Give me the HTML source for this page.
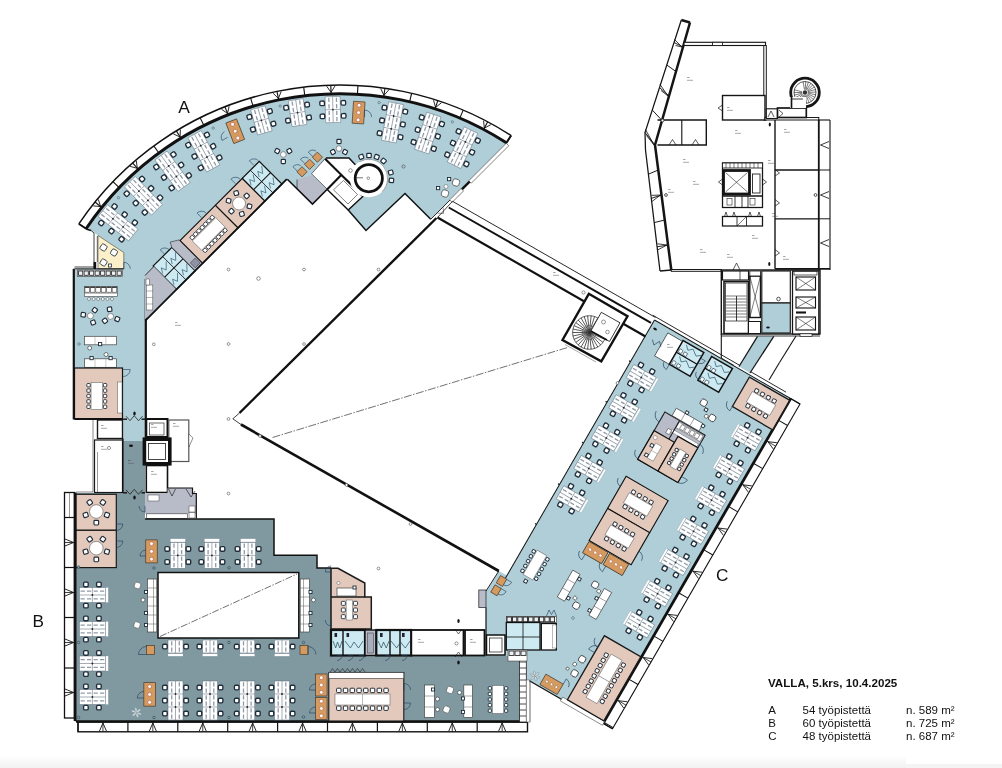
<!DOCTYPE html>
<html lang="fi"><head><meta charset="utf-8"><title>VALLA, 5.krs</title>
<style>
html,body{margin:0;padding:0;background:#fff;}
body{width:1002px;height:768px;overflow:hidden;position:relative;font-family:"Liberation Sans",sans-serif;}
svg{position:absolute;left:0;top:0;display:block;will-change:transform}
text{font-family:"Liberation Sans",sans-serif;fill:#111}
</style></head><body>
<svg width="1002" height="768" viewBox="0 0 1002 768">
<defs><linearGradient id="bb" x1="0" y1="0" x2="0" y2="1"><stop offset="0" stop-color="#fdfdfd"/><stop offset="1" stop-color="#f1f1f1"/></linearGradient></defs>
<rect x="0" y="0" width="1002" height="768" fill="#fff" stroke="none" stroke-width="1" />
<rect x="0" y="757" width="906" height="11" fill="url(#bb)" stroke="none" stroke-width="1" />
<rect x="906" y="764" width="96" height="4" fill="#f4f4f4" stroke="none" stroke-width="1" />
<polygon points="86.07,228.72 90.58,222.21 95.26,215.82 100.1,209.55 105.11,203.41 110.27,197.41 115.59,191.53 121.05,185.8 126.66,180.21 132.42,174.77 138.31,169.48 144.34,164.34 150.5,159.36 156.78,154.54 163.19,149.88 169.72,145.4 176.36,141.08 183.11,136.93 189.96,132.96 196.92,129.17 203.97,125.56 211.11,122.14 218.34,118.9 225.65,115.85 233.03,112.99 240.49,110.32 248.01,107.84 255.6,105.56 263.24,103.47 270.93,101.59 278.67,99.9 286.45,98.42 294.27,97.13 302.11,96.05 309.99,95.17 317.88,94.5 325.78,94.03 333.7,93.76 341.62,93.7 349.54,93.85 357.45,94.2 365.36,94.75 373.24,95.51 381.1,96.47 388.94,97.63 396.74,99 404.5,100.57 412.22,102.34 419.9,104.3 427.51,106.47 435.08,108.83 442.57,111.39 450,114.13 457.36,117.07 464.63,120.2 471.83,123.52 478.93,127.02 485.94,130.7 492.86,134.57 499.67,138.61 506.37,142.82 506.5,143.5 430.5,219 405,193.5 366,230.5 348,210 327,189.5 312.5,204 287.3,179.5 145,321.5 145,441 123.2,441 123.2,418.5 74.5,418.5 74.5,268.8 98,268.8 98,235.5 89.5,229.5" fill="#afced7" stroke="none" stroke-width="1" />
<polygon points="75,493 123.2,493 123.2,441 145,441 145,519 274,519 274,555.3 317,555.3 317,568 331,568 331,656 520,656 526.3,656 526.3,721.5 75,721.5" fill="#8099a1" stroke="none" stroke-width="1" />
<polygon points="654.5,320 790.64,398.6 603.14,723.36 529.79,681.01 526.3,681 526.3,656 486,656 486,591 498.8,571 507,575.48" fill="#afced7" stroke="none" stroke-width="1" />
<path d="M78.85 223.85 A315 315 0 0 1 511.1 135.52" fill="none" stroke="#111" stroke-width="1.5"/>
<path d="M86.07 228.72 A306.3 306.3 0 0 1 506.37 142.82" fill="none" stroke="#111" stroke-width="3"/>
<line x1="86.07" y1="228.72" x2="78.85" y2="223.85" stroke="#111" stroke-width="1.5" />
<line x1="101.75" y1="207.49" x2="94.99" y2="202.03" stroke="#111" stroke-width="1.1" />
<polyline points="98.37,199.47 100.59,206.55 93.2,205.87" fill="none" stroke="#111" stroke-width="0.9" />
<line x1="119.21" y1="187.7" x2="112.94" y2="181.67" stroke="#111" stroke-width="1.1" />
<line x1="138.31" y1="169.48" x2="132.58" y2="162.93" stroke="#111" stroke-width="1.1" />
<polyline points="136.35,161 137.32,168.35 130.16,166.41" fill="none" stroke="#111" stroke-width="0.9" />
<line x1="158.91" y1="152.97" x2="153.76" y2="145.95" stroke="#111" stroke-width="1.1" />
<line x1="180.85" y1="138.29" x2="176.33" y2="130.86" stroke="#111" stroke-width="1.1" />
<polyline points="180.37,129.6 180.07,137.01 173.35,133.87" fill="none" stroke="#111" stroke-width="0.9" />
<line x1="203.97" y1="125.56" x2="200.1" y2="117.77" stroke="#111" stroke-width="1.1" />
<line x1="228.1" y1="114.87" x2="224.92" y2="106.77" stroke="#111" stroke-width="1.1" />
<polyline points="229.12,106.23 227.55,113.48 221.47,109.23" fill="none" stroke="#111" stroke-width="0.9" />
<line x1="253.06" y1="106.3" x2="250.59" y2="97.95" stroke="#111" stroke-width="1.1" />
<line x1="278.67" y1="99.9" x2="276.93" y2="91.38" stroke="#111" stroke-width="1.1" />
<polyline points="281.16,91.56 278.37,98.43 273.11,93.21" fill="none" stroke="#111" stroke-width="0.9" />
<line x1="304.74" y1="95.74" x2="303.73" y2="87.09" stroke="#111" stroke-width="1.1" />
<line x1="331.06" y1="93.83" x2="330.81" y2="85.13" stroke="#111" stroke-width="1.1" />
<polyline points="334.95,86.04 331.02,92.33 326.73,86.28" fill="none" stroke="#111" stroke-width="0.9" />
<line x1="357.45" y1="94.2" x2="357.95" y2="85.51" stroke="#111" stroke-width="1.1" />
<line x1="383.72" y1="96.84" x2="384.96" y2="88.22" stroke="#111" stroke-width="1.1" />
<polyline points="388.88,89.83 383.93,95.35 380.74,88.65" fill="none" stroke="#111" stroke-width="0.9" />
<line x1="409.65" y1="101.73" x2="411.63" y2="93.25" stroke="#111" stroke-width="1.1" />
<line x1="435.08" y1="108.83" x2="437.78" y2="100.56" stroke="#111" stroke-width="1.1" />
<polyline points="441.36,102.81 435.54,107.4 433.55,100.26" fill="none" stroke="#111" stroke-width="0.9" />
<line x1="459.79" y1="118.1" x2="463.19" y2="110.09" stroke="#111" stroke-width="1.1" />
<line x1="483.62" y1="129.46" x2="487.69" y2="121.77" stroke="#111" stroke-width="1.1" />
<polyline points="490.84,124.61 484.32,128.13 483.58,120.75" fill="none" stroke="#111" stroke-width="0.9" />
<line x1="506.37" y1="142.82" x2="511.1" y2="135.52" stroke="#111" stroke-width="1.5" />
<polyline points="78.85,223.85 86.89,229.28 91,230.5" fill="none" stroke="#111" stroke-width="1.6" />
<polyline points="511.1,135.52 505.83,143.66" fill="none" stroke="#111" stroke-width="1.8" />
<polygon points="98,235.5 123.8,252.5 123.8,268.8 98,268.8" fill="#fbf0c9" stroke="#444" stroke-width="0.6" />
<polyline points="91,230.5 94,233 94,268" fill="none" stroke="#111" stroke-width="0.8" />
<line x1="97.3" y1="236" x2="97.3" y2="262" stroke="#111" stroke-width="0.6" />
<rect x="93.6" y="262" width="2.6" height="7" fill="#111" stroke="none" stroke-width="1" />
<polyline points="74.5,267 94,267" fill="none" stroke="#111" stroke-width="0.8" />
<rect x="100.5" y="244.5" width="6" height="6" fill="#fff" stroke="#1f2d3a" stroke-width="0.8" rx="1.5" transform="rotate(30 103.5 247.5)"/>
<rect x="111" y="249.5" width="6" height="6" fill="#fff" stroke="#1f2d3a" stroke-width="0.8" rx="1.5" transform="rotate(30 114 252.5)"/>
<rect x="100.5" y="259.5" width="6" height="6" fill="#fff" stroke="#1f2d3a" stroke-width="0.8" rx="1.5" transform="rotate(30 103.5 262.5)"/>
<rect x="108.5" y="264" width="3" height="3" fill="#fff" stroke="#1f2d3a" stroke-width="0.8" />
<path d="M123.8 268.8 L123.8 262.3 A6.5 6.5 0 0 1 130.3 268.8" fill="none" stroke="#1f3a5a" stroke-width="0.6"/>
<rect x="77.5" y="270" width="45" height="6.3" fill="#fff" stroke="#333" stroke-width="0.6" />
<rect x="78.6" y="271" width="4.2" height="4.3" fill="#eef1f3" stroke="#1a1a1a" stroke-width="0.8" />
<rect x="84.1" y="271" width="4.2" height="4.3" fill="#eef1f3" stroke="#1a1a1a" stroke-width="0.8" />
<rect x="89.6" y="271" width="4.2" height="4.3" fill="#eef1f3" stroke="#1a1a1a" stroke-width="0.8" />
<rect x="95.1" y="271" width="4.2" height="4.3" fill="#eef1f3" stroke="#1a1a1a" stroke-width="0.8" />
<rect x="100.6" y="271" width="4.2" height="4.3" fill="#eef1f3" stroke="#1a1a1a" stroke-width="0.8" />
<rect x="106.1" y="271" width="4.2" height="4.3" fill="#eef1f3" stroke="#1a1a1a" stroke-width="0.8" />
<rect x="111.6" y="271" width="4.2" height="4.3" fill="#eef1f3" stroke="#1a1a1a" stroke-width="0.8" />
<rect x="117.1" y="271" width="4.2" height="4.3" fill="#eef1f3" stroke="#1a1a1a" stroke-width="0.8" />
<rect x="84.4" y="286.4" width="33.1" height="10" fill="#fff" stroke="#444" stroke-width="0.6" />
<rect x="84.9" y="287" width="4.6" height="5.2" fill="#fff" stroke="#333" stroke-width="0.6" />
<line x1="84.9" y1="287.3" x2="89.5" y2="287.3" stroke="#222" stroke-width="1" />
<circle cx="89" cy="299" r="1.5" fill="#fff" stroke="#444" stroke-width="0.5" />
<rect x="90.35" y="287" width="4.6" height="5.2" fill="#fff" stroke="#333" stroke-width="0.6" />
<line x1="90.35" y1="287.3" x2="94.95" y2="287.3" stroke="#222" stroke-width="1" />
<circle cx="93.6" cy="299" r="1.5" fill="#fff" stroke="#444" stroke-width="0.5" />
<rect x="95.8" y="287" width="4.6" height="5.2" fill="#fff" stroke="#333" stroke-width="0.6" />
<line x1="95.8" y1="287.3" x2="100.4" y2="287.3" stroke="#222" stroke-width="1" />
<circle cx="98.2" cy="299" r="1.5" fill="#fff" stroke="#444" stroke-width="0.5" />
<rect x="101.25" y="287" width="4.6" height="5.2" fill="#fff" stroke="#333" stroke-width="0.6" />
<line x1="101.25" y1="287.3" x2="105.85" y2="287.3" stroke="#222" stroke-width="1" />
<circle cx="102.8" cy="299" r="1.5" fill="#fff" stroke="#444" stroke-width="0.5" />
<rect x="106.7" y="287" width="4.6" height="5.2" fill="#fff" stroke="#333" stroke-width="0.6" />
<line x1="106.7" y1="287.3" x2="111.3" y2="287.3" stroke="#222" stroke-width="1" />
<circle cx="107.4" cy="299" r="1.5" fill="#fff" stroke="#444" stroke-width="0.5" />
<rect x="112.15" y="287" width="4.6" height="5.2" fill="#fff" stroke="#333" stroke-width="0.6" />
<line x1="112.15" y1="287.3" x2="116.75" y2="287.3" stroke="#222" stroke-width="1" />
<circle cx="112" cy="299" r="1.5" fill="#fff" stroke="#444" stroke-width="0.5" />
<line x1="84.4" y1="293.2" x2="117.5" y2="293.2" stroke="#444" stroke-width="0.5" />
<rect x="92.63" y="307.93" width="4.4" height="4.4" rx="0.9" fill="#fff" stroke="#1f2d3a" stroke-width="1.15" transform="rotate(-52 94.83 310.13)"/>
<rect x="90.9" y="320.28" width="4.4" height="4.4" rx="0.9" fill="#fff" stroke="#1f2d3a" stroke-width="1.15" transform="rotate(68 93.1 322.48)"/>
<rect x="81.07" y="312.6" width="4.4" height="4.4" rx="0.9" fill="#fff" stroke="#1f2d3a" stroke-width="1.15" transform="rotate(188 83.27 314.8)"/>
<circle cx="90.4" cy="315.8" r="3" fill="#fff" stroke="#555" stroke-width="0.6" />
<rect x="107.4" y="307.07" width="4.4" height="4.4" rx="0.9" fill="#fff" stroke="#1f2d3a" stroke-width="1.15" transform="rotate(-98 109.6 309.27)"/>
<rect x="115.08" y="316.9" width="4.4" height="4.4" rx="0.9" fill="#fff" stroke="#1f2d3a" stroke-width="1.15" transform="rotate(22 117.28 319.1)"/>
<rect x="102.73" y="318.63" width="4.4" height="4.4" rx="0.9" fill="#fff" stroke="#1f2d3a" stroke-width="1.15" transform="rotate(142 104.93 320.83)"/>
<circle cx="110.6" cy="316.4" r="3" fill="#fff" stroke="#555" stroke-width="0.6" />
<rect x="84.5" y="336.3" width="32" height="8.5" fill="#fff" stroke="#444" stroke-width="0.7" />
<line x1="95" y1="336.3" x2="95" y2="344.8" stroke="#777" stroke-width="0.4" />
<line x1="105.8" y1="336.3" x2="105.8" y2="344.8" stroke="#777" stroke-width="0.4" />
<rect x="98.5" y="342.5" width="3.2" height="3.2" fill="#fff" stroke="#1f2d3a" stroke-width="0.9" />
<circle cx="89.7" cy="348" r="2" fill="#fff" stroke="#444" stroke-width="0.7" />
<circle cx="106" cy="354.5" r="2" fill="#fff" stroke="#444" stroke-width="0.7" />
<rect x="84.5" y="358.8" width="32" height="8.5" fill="#fff" stroke="#444" stroke-width="0.7" />
<line x1="95" y1="358.8" x2="95" y2="367.3" stroke="#777" stroke-width="0.4" />
<line x1="105.8" y1="358.8" x2="105.8" y2="367.3" stroke="#777" stroke-width="0.4" />
<rect x="90" y="356.5" width="3.2" height="3.2" fill="#fff" stroke="#1f2d3a" stroke-width="0.9" />
<rect x="109" y="356.5" width="3.2" height="3.2" fill="#fff" stroke="#1f2d3a" stroke-width="0.9" />
<circle cx="79" cy="344" r="1.3" fill="#afced7" stroke="#3a5566" stroke-width="0.5" />
<rect x="74.5" y="368" width="48" height="50.6" fill="#e3c9bc" stroke="#111" stroke-width="1.2" />
<rect x="117.5" y="382" width="4.5" height="31" fill="#fff" stroke="#555" stroke-width="0.5" />
<g transform="translate(96.8,396) rotate(0)">
<rect x="-9.95" y="-12.5" width="3.4" height="3.4" fill="#fff" stroke="#1f2d3a" stroke-width="0.9" rx="0.8"/>
<rect x="6.55" y="-12.5" width="3.4" height="3.4" fill="#fff" stroke="#1f2d3a" stroke-width="0.9" rx="0.8"/>
<rect x="-9.95" y="-7.1" width="3.4" height="3.4" fill="#fff" stroke="#1f2d3a" stroke-width="0.9" rx="0.8"/>
<rect x="6.55" y="-7.1" width="3.4" height="3.4" fill="#fff" stroke="#1f2d3a" stroke-width="0.9" rx="0.8"/>
<rect x="-9.95" y="-1.7" width="3.4" height="3.4" fill="#fff" stroke="#1f2d3a" stroke-width="0.9" rx="0.8"/>
<rect x="6.55" y="-1.7" width="3.4" height="3.4" fill="#fff" stroke="#1f2d3a" stroke-width="0.9" rx="0.8"/>
<rect x="-9.95" y="3.7" width="3.4" height="3.4" fill="#fff" stroke="#1f2d3a" stroke-width="0.9" rx="0.8"/>
<rect x="6.55" y="3.7" width="3.4" height="3.4" fill="#fff" stroke="#1f2d3a" stroke-width="0.9" rx="0.8"/>
<rect x="-9.95" y="9.1" width="3.4" height="3.4" fill="#fff" stroke="#1f2d3a" stroke-width="0.9" rx="0.8"/>
<rect x="6.55" y="9.1" width="3.4" height="3.4" fill="#fff" stroke="#1f2d3a" stroke-width="0.9" rx="0.8"/>
<rect x="-5.75" y="-13.5" width="11.5" height="27" fill="#fff" stroke="#555" stroke-width="0.5" />
</g>
<path d="M123.2 369.5 L130.2 369.5 A7 7 0 0 1 123.2 376.5" fill="none" stroke="#1f3a5a" stroke-width="0.6"/>
<line x1="73.8" y1="268.8" x2="73.8" y2="419.5" stroke="#111" stroke-width="2.2" />
<line x1="145.8" y1="279" x2="145.8" y2="441" stroke="#111" stroke-width="2.2" />
<line x1="74.5" y1="268.8" x2="123.8" y2="268.8" stroke="#111" stroke-width="0.9" />
<g transform="translate(145,319.5) rotate(-45)">
<rect x="43.5" y="-32" width="26.5" height="33" fill="#cde9f2" stroke="#111" stroke-width="1.2" />
<line x1="43.5" y1="-16" x2="70" y2="-16" stroke="#111" stroke-width="1" />
<line x1="57" y1="-32" x2="57" y2="1" stroke="#111" stroke-width="0.8" />
<polygon points="70,-32 72.5,-37 80.6,-32 80.6,1 70,1" fill="#b8bbc8" stroke="#333" stroke-width="0.6" />
<rect x="72" y="-8" width="7" height="7" fill="#8d93a5" stroke="#333" stroke-width="0.5" />
<rect x="80.6" y="-31" width="50" height="32" fill="#e3c9bc" stroke="#111" stroke-width="1.1" />
<rect x="130.6" y="-31" width="38" height="32" fill="#e3c9bc" stroke="#111" stroke-width="1.1" />
<rect x="168.6" y="-31" width="24" height="32" fill="#cde9f2" stroke="#111" stroke-width="1.2" />
<line x1="168.6" y1="-15" x2="192.6" y2="-15" stroke="#111" stroke-width="1" />
<line x1="180" y1="-31" x2="180" y2="1" stroke="#111" stroke-width="0.8" />
<polyline points="170,-20 173,-25 175,-20 179,-26" fill="none" stroke="#1f4a5a" stroke-width="0.6" />
<polyline points="170,-4 173,-9 175,-4 179,-10" fill="none" stroke="#1f4a5a" stroke-width="0.6" />
<polyline points="181.5,-20 184.5,-25 186.5,-20 191,-26" fill="none" stroke="#1f4a5a" stroke-width="0.6" />
<polyline points="181.5,-4 184.5,-9 186.5,-4 191,-10" fill="none" stroke="#1f4a5a" stroke-width="0.6" />
<polyline points="45,-20 48,-25 50,-20 56,-26" fill="none" stroke="#1f4a5a" stroke-width="0.6" />
<polyline points="45,-4 48,-9 50,-4 56,-10" fill="none" stroke="#1f4a5a" stroke-width="0.6" />
<polyline points="58.5,-20 61.5,-25 63.5,-20 69,-26" fill="none" stroke="#1f4a5a" stroke-width="0.6" />
<polyline points="58.5,-4 61.5,-9 63.5,-4 69,-10" fill="none" stroke="#1f4a5a" stroke-width="0.6" />
</g>
<polygon points="145,275.5 153.8,266.5 175.76,288.74 145,319.5" fill="#b8bbc8" stroke="none" stroke-width="1" />
<polyline points="145,275.5 153.8,266.5" fill="none" stroke="#111" stroke-width="0.8" />
<rect x="146.3" y="285" width="6.5" height="25" fill="#fff" stroke="#444" stroke-width="0.5" />
<line x1="146.3" y1="291" x2="152.8" y2="291" stroke="#444" stroke-width="0.4" />
<line x1="146.3" y1="297.5" x2="152.8" y2="297.5" stroke="#444" stroke-width="0.4" />
<line x1="146.3" y1="304" x2="152.8" y2="304" stroke="#444" stroke-width="0.4" />
<rect x="146" y="279" width="3.5" height="6" fill="#fff" stroke="#444" stroke-width="0.5" />
<line x1="145.35" y1="320.56" x2="286.77" y2="179.14" stroke="#111" stroke-width="1.8" />
<g transform="translate(208.64,233.94) rotate(45)">
<rect x="-10.9" y="-15.94" width="3.6" height="3.6" fill="#fff" stroke="#1f2d3a" stroke-width="0.9" rx="0.8"/>
<rect x="7.3" y="-15.94" width="3.6" height="3.6" fill="#fff" stroke="#1f2d3a" stroke-width="0.9" rx="0.8"/>
<rect x="-10.9" y="-11.23" width="3.6" height="3.6" fill="#fff" stroke="#1f2d3a" stroke-width="0.9" rx="0.8"/>
<rect x="7.3" y="-11.23" width="3.6" height="3.6" fill="#fff" stroke="#1f2d3a" stroke-width="0.9" rx="0.8"/>
<rect x="-10.9" y="-6.51" width="3.6" height="3.6" fill="#fff" stroke="#1f2d3a" stroke-width="0.9" rx="0.8"/>
<rect x="7.3" y="-6.51" width="3.6" height="3.6" fill="#fff" stroke="#1f2d3a" stroke-width="0.9" rx="0.8"/>
<rect x="-10.9" y="-1.8" width="3.6" height="3.6" fill="#fff" stroke="#1f2d3a" stroke-width="0.9" rx="0.8"/>
<rect x="7.3" y="-1.8" width="3.6" height="3.6" fill="#fff" stroke="#1f2d3a" stroke-width="0.9" rx="0.8"/>
<rect x="-10.9" y="2.91" width="3.6" height="3.6" fill="#fff" stroke="#1f2d3a" stroke-width="0.9" rx="0.8"/>
<rect x="7.3" y="2.91" width="3.6" height="3.6" fill="#fff" stroke="#1f2d3a" stroke-width="0.9" rx="0.8"/>
<rect x="-10.9" y="7.63" width="3.6" height="3.6" fill="#fff" stroke="#1f2d3a" stroke-width="0.9" rx="0.8"/>
<rect x="7.3" y="7.63" width="3.6" height="3.6" fill="#fff" stroke="#1f2d3a" stroke-width="0.9" rx="0.8"/>
<rect x="-10.9" y="12.34" width="3.6" height="3.6" fill="#fff" stroke="#1f2d3a" stroke-width="0.9" rx="0.8"/>
<rect x="7.3" y="12.34" width="3.6" height="3.6" fill="#fff" stroke="#1f2d3a" stroke-width="0.9" rx="0.8"/>
<rect x="-6.5" y="-16.5" width="13" height="33" fill="#fff" stroke="#555" stroke-width="0.5" />
</g>
<rect x="247.28" y="204.13" width="4.4" height="4.4" rx="0.9" fill="#fff" stroke="#1f2d3a" stroke-width="1.15" transform="rotate(15 249.48 206.33)"/>
<rect x="239.64" y="211.77" width="4.4" height="4.4" rx="0.9" fill="#fff" stroke="#1f2d3a" stroke-width="1.15" transform="rotate(75 241.84 213.97)"/>
<rect x="229.21" y="208.97" width="4.4" height="4.4" rx="0.9" fill="#fff" stroke="#1f2d3a" stroke-width="1.15" transform="rotate(135 231.41 211.17)"/>
<rect x="226.41" y="198.54" width="4.4" height="4.4" rx="0.9" fill="#fff" stroke="#1f2d3a" stroke-width="1.15" transform="rotate(195 228.61 200.74)"/>
<rect x="234.05" y="190.9" width="4.4" height="4.4" rx="0.9" fill="#fff" stroke="#1f2d3a" stroke-width="1.15" transform="rotate(255 236.25 193.1)"/>
<rect x="244.48" y="193.7" width="4.4" height="4.4" rx="0.9" fill="#fff" stroke="#1f2d3a" stroke-width="1.15" transform="rotate(315 246.68 195.9)"/>
<circle cx="239.05" cy="203.53" r="6.5" fill="#fff" stroke="#555" stroke-width="0.6" />
<path d="M164.8 254.45 L160.2 249.85 A6.5 6.5 0 0 1 169.4 249.85" fill="none" stroke="#1f3a5a" stroke-width="0.6"/>
<path d="M201.57 217.68 L196.97 213.08 A6.5 6.5 0 0 1 206.16 213.08" fill="none" stroke="#1f3a5a" stroke-width="0.6"/>
<path d="M235.51 183.74 L230.91 179.14 A6.5 6.5 0 0 1 240.11 179.14" fill="none" stroke="#1f3a5a" stroke-width="0.6"/>
<path d="M253.89 165.35 L249.3 160.75 A6.5 6.5 0 0 1 258.49 160.75" fill="none" stroke="#1f3a5a" stroke-width="0.6"/>
<g transform="translate(118.05,222.82) rotate(-51.4)">
<rect x="-7.5" y="-19.5" width="15" height="39" fill="#fff" stroke="#5d6b78" stroke-width="0.5" />
<line x1="0" y1="-19.5" x2="0" y2="19.5" stroke="#7d8a96" stroke-width="0.7" />
<line x1="-3.8" y1="-18.3" x2="-3.8" y2="18.3" stroke="#8f9ba6" stroke-width="1.3" stroke-dasharray="4.2 2.2 4.2 2.4"/>
<line x1="3.8" y1="-18.3" x2="3.8" y2="18.3" stroke="#8f9ba6" stroke-width="1.3" stroke-dasharray="4.2 2.2 4.2 2.4"/>
<line x1="-7.5" y1="-6.5" x2="7.5" y2="-6.5" stroke="#6f7b87" stroke-width="0.6" />
<circle cx="0" cy="-6.5" r="0.9" fill="#222" stroke="none" stroke-width="1" />
<line x1="-7.5" y1="6.5" x2="7.5" y2="6.5" stroke="#6f7b87" stroke-width="0.6" />
<circle cx="0" cy="6.5" r="0.9" fill="#222" stroke="none" stroke-width="1" />
<rect x="-12.9" y="-15.3" width="4.6" height="4.6" fill="#fff" stroke="#1f2d3a" stroke-width="1.35" rx="1.2"/>
<rect x="8.3" y="-15.3" width="4.6" height="4.6" fill="#fff" stroke="#1f2d3a" stroke-width="1.35" rx="1.2"/>
<rect x="-12.9" y="-2.3" width="4.6" height="4.6" fill="#fff" stroke="#1f2d3a" stroke-width="1.35" rx="1.2"/>
<rect x="8.3" y="-2.3" width="4.6" height="4.6" fill="#fff" stroke="#1f2d3a" stroke-width="1.35" rx="1.2"/>
<rect x="-12.9" y="10.7" width="4.6" height="4.6" fill="#fff" stroke="#1f2d3a" stroke-width="1.35" rx="1.2"/>
<rect x="8.3" y="10.7" width="4.6" height="4.6" fill="#fff" stroke="#1f2d3a" stroke-width="1.35" rx="1.2"/>
</g>
<g transform="translate(143.42,195.72) rotate(-43.9)">
<rect x="-7.5" y="-19.5" width="15" height="39" fill="#fff" stroke="#5d6b78" stroke-width="0.5" />
<line x1="0" y1="-19.5" x2="0" y2="19.5" stroke="#7d8a96" stroke-width="0.7" />
<line x1="-3.8" y1="-18.3" x2="-3.8" y2="18.3" stroke="#8f9ba6" stroke-width="1.3" stroke-dasharray="4.2 2.2 4.2 2.4"/>
<line x1="3.8" y1="-18.3" x2="3.8" y2="18.3" stroke="#8f9ba6" stroke-width="1.3" stroke-dasharray="4.2 2.2 4.2 2.4"/>
<line x1="-7.5" y1="-6.5" x2="7.5" y2="-6.5" stroke="#6f7b87" stroke-width="0.6" />
<circle cx="0" cy="-6.5" r="0.9" fill="#222" stroke="none" stroke-width="1" />
<line x1="-7.5" y1="6.5" x2="7.5" y2="6.5" stroke="#6f7b87" stroke-width="0.6" />
<circle cx="0" cy="6.5" r="0.9" fill="#222" stroke="none" stroke-width="1" />
<rect x="-12.9" y="-15.3" width="4.6" height="4.6" fill="#fff" stroke="#1f2d3a" stroke-width="1.35" rx="1.2"/>
<rect x="8.3" y="-15.3" width="4.6" height="4.6" fill="#fff" stroke="#1f2d3a" stroke-width="1.35" rx="1.2"/>
<rect x="-12.9" y="-2.3" width="4.6" height="4.6" fill="#fff" stroke="#1f2d3a" stroke-width="1.35" rx="1.2"/>
<rect x="8.3" y="-2.3" width="4.6" height="4.6" fill="#fff" stroke="#1f2d3a" stroke-width="1.35" rx="1.2"/>
<rect x="-12.9" y="10.7" width="4.6" height="4.6" fill="#fff" stroke="#1f2d3a" stroke-width="1.35" rx="1.2"/>
<rect x="8.3" y="10.7" width="4.6" height="4.6" fill="#fff" stroke="#1f2d3a" stroke-width="1.35" rx="1.2"/>
</g>
<g transform="translate(172.56,171.23) rotate(-36.2)">
<rect x="-7.5" y="-19.5" width="15" height="39" fill="#fff" stroke="#5d6b78" stroke-width="0.5" />
<line x1="0" y1="-19.5" x2="0" y2="19.5" stroke="#7d8a96" stroke-width="0.7" />
<line x1="-3.8" y1="-18.3" x2="-3.8" y2="18.3" stroke="#8f9ba6" stroke-width="1.3" stroke-dasharray="4.2 2.2 4.2 2.4"/>
<line x1="3.8" y1="-18.3" x2="3.8" y2="18.3" stroke="#8f9ba6" stroke-width="1.3" stroke-dasharray="4.2 2.2 4.2 2.4"/>
<line x1="-7.5" y1="-6.5" x2="7.5" y2="-6.5" stroke="#6f7b87" stroke-width="0.6" />
<circle cx="0" cy="-6.5" r="0.9" fill="#222" stroke="none" stroke-width="1" />
<line x1="-7.5" y1="6.5" x2="7.5" y2="6.5" stroke="#6f7b87" stroke-width="0.6" />
<circle cx="0" cy="6.5" r="0.9" fill="#222" stroke="none" stroke-width="1" />
<rect x="-12.9" y="-15.3" width="4.6" height="4.6" fill="#fff" stroke="#1f2d3a" stroke-width="1.35" rx="1.2"/>
<rect x="8.3" y="-15.3" width="4.6" height="4.6" fill="#fff" stroke="#1f2d3a" stroke-width="1.35" rx="1.2"/>
<rect x="-12.9" y="-2.3" width="4.6" height="4.6" fill="#fff" stroke="#1f2d3a" stroke-width="1.35" rx="1.2"/>
<rect x="8.3" y="-2.3" width="4.6" height="4.6" fill="#fff" stroke="#1f2d3a" stroke-width="1.35" rx="1.2"/>
<rect x="-12.9" y="10.7" width="4.6" height="4.6" fill="#fff" stroke="#1f2d3a" stroke-width="1.35" rx="1.2"/>
<rect x="8.3" y="10.7" width="4.6" height="4.6" fill="#fff" stroke="#1f2d3a" stroke-width="1.35" rx="1.2"/>
</g>
<g transform="translate(203.86,151.33) rotate(-28.7)">
<rect x="-7.5" y="-19.5" width="15" height="39" fill="#fff" stroke="#5d6b78" stroke-width="0.5" />
<line x1="0" y1="-19.5" x2="0" y2="19.5" stroke="#7d8a96" stroke-width="0.7" />
<line x1="-3.8" y1="-18.3" x2="-3.8" y2="18.3" stroke="#8f9ba6" stroke-width="1.3" stroke-dasharray="4.2 2.2 4.2 2.4"/>
<line x1="3.8" y1="-18.3" x2="3.8" y2="18.3" stroke="#8f9ba6" stroke-width="1.3" stroke-dasharray="4.2 2.2 4.2 2.4"/>
<line x1="-7.5" y1="-6.5" x2="7.5" y2="-6.5" stroke="#6f7b87" stroke-width="0.6" />
<circle cx="0" cy="-6.5" r="0.9" fill="#222" stroke="none" stroke-width="1" />
<line x1="-7.5" y1="6.5" x2="7.5" y2="6.5" stroke="#6f7b87" stroke-width="0.6" />
<circle cx="0" cy="6.5" r="0.9" fill="#222" stroke="none" stroke-width="1" />
<rect x="-12.9" y="-15.3" width="4.6" height="4.6" fill="#fff" stroke="#1f2d3a" stroke-width="1.35" rx="1.2"/>
<rect x="8.3" y="-15.3" width="4.6" height="4.6" fill="#fff" stroke="#1f2d3a" stroke-width="1.35" rx="1.2"/>
<rect x="-12.9" y="-2.3" width="4.6" height="4.6" fill="#fff" stroke="#1f2d3a" stroke-width="1.35" rx="1.2"/>
<rect x="8.3" y="-2.3" width="4.6" height="4.6" fill="#fff" stroke="#1f2d3a" stroke-width="1.35" rx="1.2"/>
<rect x="-12.9" y="10.7" width="4.6" height="4.6" fill="#fff" stroke="#1f2d3a" stroke-width="1.35" rx="1.2"/>
<rect x="8.3" y="10.7" width="4.6" height="4.6" fill="#fff" stroke="#1f2d3a" stroke-width="1.35" rx="1.2"/>
</g>
<g transform="translate(261.39,120.34) rotate(-15.7)">
<rect x="-7.5" y="-13" width="15" height="26" fill="#fff" stroke="#5d6b78" stroke-width="0.5" />
<line x1="0" y1="-13" x2="0" y2="13" stroke="#7d8a96" stroke-width="0.7" />
<line x1="-3.8" y1="-11.8" x2="-3.8" y2="11.8" stroke="#8f9ba6" stroke-width="1.3" stroke-dasharray="4.2 2.2 4.2 2.4"/>
<line x1="3.8" y1="-11.8" x2="3.8" y2="11.8" stroke="#8f9ba6" stroke-width="1.3" stroke-dasharray="4.2 2.2 4.2 2.4"/>
<line x1="-7.5" y1="0" x2="7.5" y2="0" stroke="#6f7b87" stroke-width="0.6" />
<circle cx="0" cy="0" r="0.9" fill="#222" stroke="none" stroke-width="1" />
<rect x="-12.9" y="-8.8" width="4.6" height="4.6" fill="#fff" stroke="#1f2d3a" stroke-width="1.35" rx="1.2"/>
<rect x="8.3" y="-8.8" width="4.6" height="4.6" fill="#fff" stroke="#1f2d3a" stroke-width="1.35" rx="1.2"/>
<rect x="-12.9" y="4.2" width="4.6" height="4.6" fill="#fff" stroke="#1f2d3a" stroke-width="1.35" rx="1.2"/>
<rect x="8.3" y="4.2" width="4.6" height="4.6" fill="#fff" stroke="#1f2d3a" stroke-width="1.35" rx="1.2"/>
</g>
<g transform="translate(297.56,112.62) rotate(-8.4)">
<rect x="-7.5" y="-13" width="15" height="26" fill="#fff" stroke="#5d6b78" stroke-width="0.5" />
<line x1="0" y1="-13" x2="0" y2="13" stroke="#7d8a96" stroke-width="0.7" />
<line x1="-3.8" y1="-11.8" x2="-3.8" y2="11.8" stroke="#8f9ba6" stroke-width="1.3" stroke-dasharray="4.2 2.2 4.2 2.4"/>
<line x1="3.8" y1="-11.8" x2="3.8" y2="11.8" stroke="#8f9ba6" stroke-width="1.3" stroke-dasharray="4.2 2.2 4.2 2.4"/>
<line x1="-7.5" y1="0" x2="7.5" y2="0" stroke="#6f7b87" stroke-width="0.6" />
<circle cx="0" cy="0" r="0.9" fill="#222" stroke="none" stroke-width="1" />
<rect x="-12.9" y="-8.8" width="4.6" height="4.6" fill="#fff" stroke="#1f2d3a" stroke-width="1.35" rx="1.2"/>
<rect x="8.3" y="-8.8" width="4.6" height="4.6" fill="#fff" stroke="#1f2d3a" stroke-width="1.35" rx="1.2"/>
<rect x="-12.9" y="4.2" width="4.6" height="4.6" fill="#fff" stroke="#1f2d3a" stroke-width="1.35" rx="1.2"/>
<rect x="8.3" y="4.2" width="4.6" height="4.6" fill="#fff" stroke="#1f2d3a" stroke-width="1.35" rx="1.2"/>
</g>
<g transform="translate(332.9,109.59) rotate(-1.4)">
<rect x="-7.5" y="-13" width="15" height="26" fill="#fff" stroke="#5d6b78" stroke-width="0.5" />
<line x1="0" y1="-13" x2="0" y2="13" stroke="#7d8a96" stroke-width="0.7" />
<line x1="-3.8" y1="-11.8" x2="-3.8" y2="11.8" stroke="#8f9ba6" stroke-width="1.3" stroke-dasharray="4.2 2.2 4.2 2.4"/>
<line x1="3.8" y1="-11.8" x2="3.8" y2="11.8" stroke="#8f9ba6" stroke-width="1.3" stroke-dasharray="4.2 2.2 4.2 2.4"/>
<line x1="-7.5" y1="0" x2="7.5" y2="0" stroke="#6f7b87" stroke-width="0.6" />
<circle cx="0" cy="0" r="0.9" fill="#222" stroke="none" stroke-width="1" />
<rect x="-12.9" y="-8.8" width="4.6" height="4.6" fill="#fff" stroke="#1f2d3a" stroke-width="1.35" rx="1.2"/>
<rect x="8.3" y="-8.8" width="4.6" height="4.6" fill="#fff" stroke="#1f2d3a" stroke-width="1.35" rx="1.2"/>
<rect x="-12.9" y="4.2" width="4.6" height="4.6" fill="#fff" stroke="#1f2d3a" stroke-width="1.35" rx="1.2"/>
<rect x="8.3" y="4.2" width="4.6" height="4.6" fill="#fff" stroke="#1f2d3a" stroke-width="1.35" rx="1.2"/>
</g>
<g transform="translate(392.45,122.41) rotate(10.7)">
<rect x="-7.5" y="-19.5" width="15" height="39" fill="#fff" stroke="#5d6b78" stroke-width="0.5" />
<line x1="0" y1="-19.5" x2="0" y2="19.5" stroke="#7d8a96" stroke-width="0.7" />
<line x1="-3.8" y1="-18.3" x2="-3.8" y2="18.3" stroke="#8f9ba6" stroke-width="1.3" stroke-dasharray="4.2 2.2 4.2 2.4"/>
<line x1="3.8" y1="-18.3" x2="3.8" y2="18.3" stroke="#8f9ba6" stroke-width="1.3" stroke-dasharray="4.2 2.2 4.2 2.4"/>
<line x1="-7.5" y1="-6.5" x2="7.5" y2="-6.5" stroke="#6f7b87" stroke-width="0.6" />
<circle cx="0" cy="-6.5" r="0.9" fill="#222" stroke="none" stroke-width="1" />
<line x1="-7.5" y1="6.5" x2="7.5" y2="6.5" stroke="#6f7b87" stroke-width="0.6" />
<circle cx="0" cy="6.5" r="0.9" fill="#222" stroke="none" stroke-width="1" />
<rect x="-12.9" y="-15.3" width="4.6" height="4.6" fill="#fff" stroke="#1f2d3a" stroke-width="1.35" rx="1.2"/>
<rect x="8.3" y="-15.3" width="4.6" height="4.6" fill="#fff" stroke="#1f2d3a" stroke-width="1.35" rx="1.2"/>
<rect x="-12.9" y="-2.3" width="4.6" height="4.6" fill="#fff" stroke="#1f2d3a" stroke-width="1.35" rx="1.2"/>
<rect x="8.3" y="-2.3" width="4.6" height="4.6" fill="#fff" stroke="#1f2d3a" stroke-width="1.35" rx="1.2"/>
<rect x="-12.9" y="10.7" width="4.6" height="4.6" fill="#fff" stroke="#1f2d3a" stroke-width="1.35" rx="1.2"/>
<rect x="8.3" y="10.7" width="4.6" height="4.6" fill="#fff" stroke="#1f2d3a" stroke-width="1.35" rx="1.2"/>
</g>
<g transform="translate(427.77,133.06) rotate(18.2)">
<rect x="-7.5" y="-19.5" width="15" height="39" fill="#fff" stroke="#5d6b78" stroke-width="0.5" />
<line x1="0" y1="-19.5" x2="0" y2="19.5" stroke="#7d8a96" stroke-width="0.7" />
<line x1="-3.8" y1="-18.3" x2="-3.8" y2="18.3" stroke="#8f9ba6" stroke-width="1.3" stroke-dasharray="4.2 2.2 4.2 2.4"/>
<line x1="3.8" y1="-18.3" x2="3.8" y2="18.3" stroke="#8f9ba6" stroke-width="1.3" stroke-dasharray="4.2 2.2 4.2 2.4"/>
<line x1="-7.5" y1="-6.5" x2="7.5" y2="-6.5" stroke="#6f7b87" stroke-width="0.6" />
<circle cx="0" cy="-6.5" r="0.9" fill="#222" stroke="none" stroke-width="1" />
<line x1="-7.5" y1="6.5" x2="7.5" y2="6.5" stroke="#6f7b87" stroke-width="0.6" />
<circle cx="0" cy="6.5" r="0.9" fill="#222" stroke="none" stroke-width="1" />
<rect x="-12.9" y="-15.3" width="4.6" height="4.6" fill="#fff" stroke="#1f2d3a" stroke-width="1.35" rx="1.2"/>
<rect x="8.3" y="-15.3" width="4.6" height="4.6" fill="#fff" stroke="#1f2d3a" stroke-width="1.35" rx="1.2"/>
<rect x="-12.9" y="-2.3" width="4.6" height="4.6" fill="#fff" stroke="#1f2d3a" stroke-width="1.35" rx="1.2"/>
<rect x="8.3" y="-2.3" width="4.6" height="4.6" fill="#fff" stroke="#1f2d3a" stroke-width="1.35" rx="1.2"/>
<rect x="-12.9" y="10.7" width="4.6" height="4.6" fill="#fff" stroke="#1f2d3a" stroke-width="1.35" rx="1.2"/>
<rect x="8.3" y="10.7" width="4.6" height="4.6" fill="#fff" stroke="#1f2d3a" stroke-width="1.35" rx="1.2"/>
</g>
<g transform="translate(462.52,147.67) rotate(25.9)">
<rect x="-7.5" y="-19.5" width="15" height="39" fill="#fff" stroke="#5d6b78" stroke-width="0.5" />
<line x1="0" y1="-19.5" x2="0" y2="19.5" stroke="#7d8a96" stroke-width="0.7" />
<line x1="-3.8" y1="-18.3" x2="-3.8" y2="18.3" stroke="#8f9ba6" stroke-width="1.3" stroke-dasharray="4.2 2.2 4.2 2.4"/>
<line x1="3.8" y1="-18.3" x2="3.8" y2="18.3" stroke="#8f9ba6" stroke-width="1.3" stroke-dasharray="4.2 2.2 4.2 2.4"/>
<line x1="-7.5" y1="-6.5" x2="7.5" y2="-6.5" stroke="#6f7b87" stroke-width="0.6" />
<circle cx="0" cy="-6.5" r="0.9" fill="#222" stroke="none" stroke-width="1" />
<line x1="-7.5" y1="6.5" x2="7.5" y2="6.5" stroke="#6f7b87" stroke-width="0.6" />
<circle cx="0" cy="6.5" r="0.9" fill="#222" stroke="none" stroke-width="1" />
<rect x="-12.9" y="-15.3" width="4.6" height="4.6" fill="#fff" stroke="#1f2d3a" stroke-width="1.35" rx="1.2"/>
<rect x="8.3" y="-15.3" width="4.6" height="4.6" fill="#fff" stroke="#1f2d3a" stroke-width="1.35" rx="1.2"/>
<rect x="-12.9" y="-2.3" width="4.6" height="4.6" fill="#fff" stroke="#1f2d3a" stroke-width="1.35" rx="1.2"/>
<rect x="8.3" y="-2.3" width="4.6" height="4.6" fill="#fff" stroke="#1f2d3a" stroke-width="1.35" rx="1.2"/>
<rect x="-12.9" y="10.7" width="4.6" height="4.6" fill="#fff" stroke="#1f2d3a" stroke-width="1.35" rx="1.2"/>
<rect x="8.3" y="10.7" width="4.6" height="4.6" fill="#fff" stroke="#1f2d3a" stroke-width="1.35" rx="1.2"/>
</g>
<g transform="translate(235.2,131.21) rotate(-21.3)">
<rect x="-5.75" y="-11" width="11.5" height="22" fill="#d49a60" stroke="#4a3a2a" stroke-width="0.7" />
<circle cx="0" cy="-7.33" r="1.9" fill="#fff" stroke="#b5523a" stroke-width="0.6" />
<circle cx="0" cy="0" r="1.9" fill="#fff" stroke="#b5523a" stroke-width="0.6" />
<circle cx="0" cy="7.33" r="1.9" fill="#fff" stroke="#b5523a" stroke-width="0.6" />
</g>
<path d="M227.7 137.21 L222.07 140.46 A6.5 6.5 0 0 1 224.45 131.58" fill="none" stroke="#1f3a5a" stroke-width="0.6"/>
<g transform="translate(358.59,112.6) rotate(3.7)">
<rect x="-5.75" y="-11" width="11.5" height="22" fill="#d49a60" stroke="#4a3a2a" stroke-width="0.7" />
<circle cx="0" cy="-7.33" r="1.9" fill="#fff" stroke="#b5523a" stroke-width="0.6" />
<circle cx="0" cy="0" r="1.9" fill="#fff" stroke="#b5523a" stroke-width="0.6" />
<circle cx="0" cy="7.33" r="1.9" fill="#fff" stroke="#b5523a" stroke-width="0.6" />
</g>
<path d="M364.59 117.1 L364.59 110.1 A7 7 0 0 1 371.59 117.1" fill="none" stroke="#1f3a5a" stroke-width="0.6"/>
<circle cx="118.46" cy="197.71" r="1.2" fill="#afced7" stroke="#3a5566" stroke-width="0.5" />
<circle cx="213.21" cy="128.11" r="1.2" fill="#afced7" stroke="#3a5566" stroke-width="0.5" />
<circle cx="280.19" cy="106.02" r="1.2" fill="#afced7" stroke="#3a5566" stroke-width="0.5" />
<circle cx="379.16" cy="102.57" r="1.2" fill="#afced7" stroke="#3a5566" stroke-width="0.5" />
<circle cx="452.38" cy="121.84" r="1.2" fill="#afced7" stroke="#3a5566" stroke-width="0.5" />
<rect x="287.26" y="148.9" width="4.2" height="4.2" rx="0.9" fill="#fff" stroke="#1f2d3a" stroke-width="1.15" transform="rotate(-30 289.36 151)"/>
<rect x="281.2" y="159.4" width="4.2" height="4.2" rx="0.9" fill="#fff" stroke="#1f2d3a" stroke-width="1.15" transform="rotate(90 283.3 161.5)"/>
<rect x="275.14" y="148.9" width="4.2" height="4.2" rx="0.9" fill="#fff" stroke="#1f2d3a" stroke-width="1.15" transform="rotate(210 277.24 151)"/>
<circle cx="283.3" cy="154.5" r="2.8" fill="#fff" stroke="#555" stroke-width="0.6" />
<rect x="336.9" y="139.4" width="4.2" height="4.2" rx="0.9" fill="#fff" stroke="#1f2d3a" stroke-width="1.15" transform="rotate(-90 339 141.5)"/>
<rect x="342.96" y="149.9" width="4.2" height="4.2" rx="0.9" fill="#fff" stroke="#1f2d3a" stroke-width="1.15" transform="rotate(30 345.06 152)"/>
<rect x="330.84" y="149.9" width="4.2" height="4.2" rx="0.9" fill="#fff" stroke="#1f2d3a" stroke-width="1.15" transform="rotate(150 332.94 152)"/>
<circle cx="339" cy="148.5" r="2.8" fill="#fff" stroke="#555" stroke-width="0.6" />
<polygon points="297,179.5 311.3,175.5 326.5,189.5 312.5,204 297,188.5" fill="#b8bbc8" stroke="none" stroke-width="1" />
<polyline points="287.3,179.3 312.5,204 327,189.5" fill="none" stroke="#111" stroke-width="1.6" />
<line x1="297" y1="179.5" x2="297" y2="188.5" stroke="#111" stroke-width="0.6" />
<g transform="translate(302,171.8) rotate(45)">
<rect x="-3.6" y="-3.6" width="7.2" height="7.2" fill="#d49a60" stroke="#4a3a2a" stroke-width="0.7" />
</g>
<path d="M297.5 171.3 L292.9 166.7 A6.5 6.5 0 0 1 300.75 165.67" fill="none" stroke="#1f3a5a" stroke-width="0.6"/>
<g transform="translate(309.6,164.3) rotate(45)">
<rect x="-3.6" y="-3.6" width="7.2" height="7.2" fill="#d49a60" stroke="#4a3a2a" stroke-width="0.7" />
</g>
<path d="M305.1 163.8 L300.5 159.2 A6.5 6.5 0 0 1 308.35 158.17" fill="none" stroke="#1f3a5a" stroke-width="0.6"/>
<g transform="translate(317.4,157.2) rotate(45)">
<rect x="-3.6" y="-3.6" width="7.2" height="7.2" fill="#d49a60" stroke="#4a3a2a" stroke-width="0.7" />
</g>
<path d="M312.9 156.7 L308.3 152.1 A6.5 6.5 0 0 1 316.15 151.07" fill="none" stroke="#1f3a5a" stroke-width="0.6"/>
<polygon points="325,158.8 341.3,174.4 327,189 311.5,173.8" fill="#fff" stroke="#333" stroke-width="0.7" />
<polygon points="341.3,175 363,196.3 348.2,210 327.2,189.4" fill="#fff" stroke="#111" stroke-width="1.4" />
<polygon points="343.5,180.5 357.5,194.5 348,204 333.5,189.8" fill="#fff" stroke="#333" stroke-width="0.6" />
<polygon points="326,158 349,158 357,166.5 355,185 341.3,174.4" fill="#fff" stroke="none" stroke-width="1" />
<polyline points="326,158 349,158 356.5,166" fill="none" stroke="#111" stroke-width="1.5" />
<line x1="325" y1="158.8" x2="363" y2="196.3" stroke="#111" stroke-width="2" />
<line x1="327" y1="189.5" x2="341.3" y2="175" stroke="#111" stroke-width="1.8" />
<circle cx="368.8" cy="178.2" r="19" fill="#fff" stroke="none" stroke-width="1" />
<path d="M359.3 161.75 A19 19 0 0 1 382.1 191.69" fill="none" stroke="#555" stroke-width="0.5"/>
<circle cx="368.8" cy="178.2" r="13.6" fill="#fff" stroke="#111" stroke-width="2.8" />
<circle cx="368.3" cy="178.2" r="1.3" fill="#fff" stroke="#333" stroke-width="0.5" />
<line x1="355" y1="177.8" x2="363" y2="177.8" stroke="#111" stroke-width="0.6" />
<circle cx="350.5" cy="170.5" r="1.8" fill="#fff" stroke="#333" stroke-width="0.5" />
<rect x="359.1" y="155.06" width="4.4" height="4.4" rx="0.8" fill="#fff" stroke="#1f2d3a" stroke-width="1.2" transform="rotate(-110 361.1 157.06)"/>
<rect x="366.8" y="153.7" width="4.4" height="4.4" rx="0.8" fill="#fff" stroke="#1f2d3a" stroke-width="1.2" transform="rotate(-90 368.8 155.7)"/>
<rect x="374.5" y="155.06" width="4.4" height="4.4" rx="0.8" fill="#fff" stroke="#1f2d3a" stroke-width="1.2" transform="rotate(-70 376.5 157.06)"/>
<rect x="381.26" y="158.96" width="4.4" height="4.4" rx="0.8" fill="#fff" stroke="#1f2d3a" stroke-width="1.2" transform="rotate(-50 383.26 160.96)"/>
<rect x="388.53" y="170.38" width="4.4" height="4.4" rx="0.8" fill="#fff" stroke="#1f2d3a" stroke-width="1.2" transform="rotate(-15 390.53 172.38)"/>
<rect x="389.21" y="178.16" width="4.4" height="4.4" rx="0.8" fill="#fff" stroke="#1f2d3a" stroke-width="1.2" transform="rotate(5 391.21 180.16)"/>
<polyline points="348.2,210 366,230.5 405,193.5 430.5,219" fill="none" stroke="#111" stroke-width="1.5" />
<polygon points="506.29,143.29 508.76,145.76 471.29,183.24 468.81,180.76" fill="#fff" stroke="#333" stroke-width="0.6" />
<polyline points="469.59,181.54 461.81,189.32" fill="none" stroke="#111" stroke-width="2.4" />
<polygon points="461.03,188.54 463.51,191.02 452.19,202.33 449.72,199.86" fill="#fff" stroke="#333" stroke-width="0.6" />
<polyline points="449.93,200.07 430.49,219.51" fill="none" stroke="#111" stroke-width="0.9" />
<polyline points="443.21,207.49 443.57,213.5 437.56,213.15" fill="none" stroke="#333" stroke-width="0.5" />
<rect x="452.6" y="179.1" width="6.8" height="6.8" fill="#fff" stroke="#444" stroke-width="0.7" rx="2.2" transform="rotate(20 456 182.5)"/>
<rect x="441.6" y="190.1" width="6.8" height="6.8" fill="#fff" stroke="#444" stroke-width="0.7" rx="2.2" transform="rotate(20 445 193.5)"/>
<circle cx="446" cy="186.5" r="2" fill="#fff" stroke="#555" stroke-width="0.5" />
<rect x="447.5" y="177.5" width="3.2" height="3.2" fill="#fff" stroke="#1f2d3a" stroke-width="0.9" />
<rect x="436.5" y="186.5" width="3.2" height="3.2" fill="#fff" stroke="#1f2d3a" stroke-width="0.9" />
<circle cx="403.5" cy="166.5" r="1.6" fill="#afced7" stroke="#333" stroke-width="0.5" />
<rect x="97.5" y="420" width="25" height="18.5" fill="#fff" stroke="#1a1a1a" stroke-width="1.4" />
<rect x="94.5" y="440" width="28" height="52.5" fill="#fff" stroke="#1a1a1a" stroke-width="1.2" />
<line x1="97.5" y1="452" x2="97.5" y2="492" stroke="#555" stroke-width="0.6" />
<polyline points="74.5,419.5 93,419.5 93,492 76,492" fill="none" stroke="#555" stroke-width="0.7" />
<line x1="122.8" y1="438.5" x2="122.8" y2="493" stroke="#111" stroke-width="1.6" />
<line x1="74.5" y1="419.2" x2="123.2" y2="419.2" stroke="#111" stroke-width="1.6" />
<circle cx="109" cy="448" r="1.6" fill="#fff" stroke="#333" stroke-width="0.5" />
<rect x="146.3" y="419" width="21.2" height="18" fill="#fff" stroke="#111" stroke-width="2" />
<rect x="149.5" y="423" width="14.5" height="12" fill="#fff" stroke="#333" stroke-width="0.7" />
<rect x="168.8" y="420" width="20" height="41.5" fill="#fff" stroke="#555" stroke-width="1.2" />
<rect x="144.4" y="439.2" width="25.4" height="24.6" fill="#fff" stroke="#111" stroke-width="3.6" />
<rect x="148.5" y="443.5" width="17" height="16" fill="#fff" stroke="#333" stroke-width="0.9" />
<rect x="146.3" y="465.5" width="21.2" height="27" fill="#fff" stroke="#111" stroke-width="1.6" />
<polygon points="188.8,434 193,438 188.8,447" fill="#fff" stroke="#444" stroke-width="0.6" />
<ellipse cx="134.5" cy="413.5" rx="1.2" ry="2" fill="#111"/>
<ellipse cx="131" cy="445.8" rx="2" ry="1.3" fill="#111"/>
<ellipse cx="134.5" cy="497.5" rx="1.2" ry="2" fill="#111"/>
<polyline points="126,416.2 130,420.7 134.2,415.7 138.5,420.7 142.5,416.2" fill="none" stroke="#111" stroke-width="0.7" />
<line x1="123.2" y1="419.2" x2="127" y2="419.2" stroke="#111" stroke-width="1.4" />
<line x1="141.5" y1="419.2" x2="145" y2="419.2" stroke="#111" stroke-width="1.4" />
<polyline points="126,489.8 130,494.3 134.2,489.3 138.5,494.3 142.5,489.8" fill="none" stroke="#111" stroke-width="0.7" />
<line x1="123.2" y1="492.8" x2="127" y2="492.8" stroke="#111" stroke-width="1.4" />
<line x1="141.5" y1="492.8" x2="145" y2="492.8" stroke="#111" stroke-width="1.4" />
<polygon points="145,493.5 167.5,493.5 167.5,488 192.5,488 192.5,493.5 196.3,493.5 196.3,513.8 145,513.8" fill="#b8bbc8" stroke="none" stroke-width="1" />
<polyline points="167.5,488 192.5,488 192.5,493.5 196.3,493.5 196.3,518.5" fill="none" stroke="#111" stroke-width="1.2" />
<rect x="146.3" y="513.8" width="41.2" height="4.7" fill="#fff" stroke="#333" stroke-width="0.6" />
<rect x="189" y="506" width="6" height="6" fill="#fff" stroke="#444" stroke-width="0.5" />
<rect x="189" y="512.5" width="6" height="5.5" fill="#fff" stroke="#444" stroke-width="0.5" />
<rect x="148" y="495" width="11" height="6" fill="#fff" stroke="#444" stroke-width="0.5" />
<path d="M145 506 L145 512 A6 6 0 0 1 139 506" fill="none" stroke="#1f3a5a" stroke-width="0.6"/>
<polyline points="168.5,489 172,496 175.5,489" fill="none" stroke="#111" stroke-width="0.6" />
<polyline points="186,489 191,497 195,491" fill="none" stroke="#111" stroke-width="0.6" />
<rect x="75.8" y="494.3" width="40.5" height="36" fill="#e3c9bc" stroke="#1a1a1a" stroke-width="1.2" />
<rect x="75.8" y="530.3" width="40.5" height="37.3" fill="#e3c9bc" stroke="#1a1a1a" stroke-width="1.2" />
<rect x="87.42" y="500.14" width="4.6" height="4.6" rx="0.9" fill="#fff" stroke="#1f2d3a" stroke-width="1.15" transform="rotate(-126 89.72 502.44)"/>
<rect x="100.58" y="500.14" width="4.6" height="4.6" rx="0.9" fill="#fff" stroke="#1f2d3a" stroke-width="1.15" transform="rotate(-54 102.88 502.44)"/>
<rect x="104.65" y="512.66" width="4.6" height="4.6" rx="0.9" fill="#fff" stroke="#1f2d3a" stroke-width="1.15" transform="rotate(18 106.95 514.96)"/>
<rect x="94" y="520.4" width="4.6" height="4.6" rx="0.9" fill="#fff" stroke="#1f2d3a" stroke-width="1.15" transform="rotate(90 96.3 522.7)"/>
<rect x="83.35" y="512.66" width="4.6" height="4.6" rx="0.9" fill="#fff" stroke="#1f2d3a" stroke-width="1.15" transform="rotate(162 85.65 514.96)"/>
<circle cx="96.3" cy="511.5" r="6.8" fill="#fff" stroke="#555" stroke-width="0.6" />
<rect x="87.42" y="536.84" width="4.6" height="4.6" rx="0.9" fill="#fff" stroke="#1f2d3a" stroke-width="1.15" transform="rotate(-126 89.72 539.14)"/>
<rect x="100.58" y="536.84" width="4.6" height="4.6" rx="0.9" fill="#fff" stroke="#1f2d3a" stroke-width="1.15" transform="rotate(-54 102.88 539.14)"/>
<rect x="104.65" y="549.36" width="4.6" height="4.6" rx="0.9" fill="#fff" stroke="#1f2d3a" stroke-width="1.15" transform="rotate(18 106.95 551.66)"/>
<rect x="94" y="557.1" width="4.6" height="4.6" rx="0.9" fill="#fff" stroke="#1f2d3a" stroke-width="1.15" transform="rotate(90 96.3 559.4)"/>
<rect x="83.35" y="549.36" width="4.6" height="4.6" rx="0.9" fill="#fff" stroke="#1f2d3a" stroke-width="1.15" transform="rotate(162 85.65 551.66)"/>
<circle cx="96.3" cy="548.2" r="6.8" fill="#fff" stroke="#555" stroke-width="0.6" />
<path d="M116.3 524 L122.8 524 A6.5 6.5 0 0 1 116.3 530.5" fill="none" stroke="#1f3a5a" stroke-width="0.6"/>
<path d="M116.3 541 L122.8 541 A6.5 6.5 0 0 1 116.3 547.5" fill="none" stroke="#1f3a5a" stroke-width="0.6"/>
<rect x="64.5" y="492.5" width="10" height="225.5" fill="#fff" stroke="#111" stroke-width="1.3" />
<line x1="75.1" y1="492.5" x2="75.1" y2="721" stroke="#111" stroke-width="2.8" />
<line x1="64.3" y1="517.5" x2="74.5" y2="517.5" stroke="#111" stroke-width="1.2" />
<polyline points="64.8,538.9 73.5,542.5 64.8,546.1" fill="none" stroke="#111" stroke-width="0.9" />
<line x1="64.5" y1="542.5" x2="75" y2="542.5" stroke="#111" stroke-width="0.8" />
<line x1="64.3" y1="567.5" x2="74.5" y2="567.5" stroke="#111" stroke-width="1.2" />
<polyline points="64.8,588.9 73.5,592.5 64.8,596.1" fill="none" stroke="#111" stroke-width="0.9" />
<line x1="64.5" y1="592.5" x2="75" y2="592.5" stroke="#111" stroke-width="0.8" />
<line x1="64.3" y1="617.5" x2="74.5" y2="617.5" stroke="#111" stroke-width="1.2" />
<polyline points="64.8,638.9 73.5,642.5 64.8,646.1" fill="none" stroke="#111" stroke-width="0.9" />
<line x1="64.5" y1="642.5" x2="75" y2="642.5" stroke="#111" stroke-width="0.8" />
<line x1="64.3" y1="668" x2="74.5" y2="668" stroke="#111" stroke-width="1.2" />
<polyline points="64.8,688.9 73.5,692.5 64.8,696.1" fill="none" stroke="#111" stroke-width="0.9" />
<line x1="64.5" y1="692.5" x2="75" y2="692.5" stroke="#111" stroke-width="0.8" />
<line x1="69.5" y1="492.5" x2="69.5" y2="517.5" stroke="#333" stroke-width="0.5" />
<rect x="78" y="722" width="449.5" height="9.8" fill="#fff" stroke="#111" stroke-width="1.4" />
<line x1="76" y1="721.5" x2="527" y2="721.5" stroke="#111" stroke-width="2.4" />
<line x1="78" y1="722" x2="78" y2="731.8" stroke="#111" stroke-width="1.2" />
<polyline points="99.35,731.3 102.95,723 106.55,731.3" fill="none" stroke="#111" stroke-width="0.9" />
<line x1="102.95" y1="721" x2="102.95" y2="731.5" stroke="#111" stroke-width="0.8" />
<line x1="127.9" y1="722" x2="127.9" y2="731.8" stroke="#111" stroke-width="1.2" />
<polyline points="149.25,731.3 152.85,723 156.45,731.3" fill="none" stroke="#111" stroke-width="0.9" />
<line x1="152.85" y1="721" x2="152.85" y2="731.5" stroke="#111" stroke-width="0.8" />
<line x1="177.8" y1="722" x2="177.8" y2="731.8" stroke="#111" stroke-width="1.2" />
<polyline points="199.15,731.3 202.75,723 206.35,731.3" fill="none" stroke="#111" stroke-width="0.9" />
<line x1="202.75" y1="721" x2="202.75" y2="731.5" stroke="#111" stroke-width="0.8" />
<line x1="227.7" y1="722" x2="227.7" y2="731.8" stroke="#111" stroke-width="1.2" />
<polyline points="249.05,731.3 252.65,723 256.25,731.3" fill="none" stroke="#111" stroke-width="0.9" />
<line x1="252.65" y1="721" x2="252.65" y2="731.5" stroke="#111" stroke-width="0.8" />
<line x1="277.6" y1="722" x2="277.6" y2="731.8" stroke="#111" stroke-width="1.2" />
<polyline points="298.95,731.3 302.55,723 306.15,731.3" fill="none" stroke="#111" stroke-width="0.9" />
<line x1="302.55" y1="721" x2="302.55" y2="731.5" stroke="#111" stroke-width="0.8" />
<line x1="327.5" y1="722" x2="327.5" y2="731.8" stroke="#111" stroke-width="1.2" />
<polyline points="348.85,731.3 352.45,723 356.05,731.3" fill="none" stroke="#111" stroke-width="0.9" />
<line x1="352.45" y1="721" x2="352.45" y2="731.5" stroke="#111" stroke-width="0.8" />
<line x1="377.4" y1="722" x2="377.4" y2="731.8" stroke="#111" stroke-width="1.2" />
<polyline points="398.75,731.3 402.35,723 405.95,731.3" fill="none" stroke="#111" stroke-width="0.9" />
<line x1="402.35" y1="721" x2="402.35" y2="731.5" stroke="#111" stroke-width="0.8" />
<line x1="427.3" y1="722" x2="427.3" y2="731.8" stroke="#111" stroke-width="1.2" />
<polyline points="448.65,731.3 452.25,723 455.85,731.3" fill="none" stroke="#111" stroke-width="0.9" />
<line x1="452.25" y1="721" x2="452.25" y2="731.5" stroke="#111" stroke-width="0.8" />
<line x1="477.2" y1="722" x2="477.2" y2="731.8" stroke="#111" stroke-width="1.2" />
<polyline points="498.55,731.3 502.15,723 505.75,731.3" fill="none" stroke="#111" stroke-width="0.9" />
<line x1="502.15" y1="721" x2="502.15" y2="731.5" stroke="#111" stroke-width="0.8" />
<rect x="158" y="572.5" width="140.8" height="65.5" fill="#fff" stroke="#111" stroke-width="1.5" />
<line x1="160" y1="636.5" x2="297" y2="574" stroke="#333" stroke-width="0.7" stroke-dasharray="7 1.5 1.5 1.5"/>
<g transform="translate(92.4,595) rotate(90)">
<rect x="-7.5" y="-13" width="15" height="26" fill="#fff" stroke="#5d6b78" stroke-width="0.5" />
<line x1="0" y1="-13" x2="0" y2="13" stroke="#7d8a96" stroke-width="0.7" />
<line x1="-3.8" y1="-11.8" x2="-3.8" y2="11.8" stroke="#8f9ba6" stroke-width="1.3" stroke-dasharray="4.2 2.2 4.2 2.4"/>
<line x1="3.8" y1="-11.8" x2="3.8" y2="11.8" stroke="#8f9ba6" stroke-width="1.3" stroke-dasharray="4.2 2.2 4.2 2.4"/>
<line x1="-7.5" y1="0" x2="7.5" y2="0" stroke="#6f7b87" stroke-width="0.6" />
<circle cx="0" cy="0" r="0.9" fill="#222" stroke="none" stroke-width="1" />
<rect x="-12.9" y="-8.8" width="4.6" height="4.6" fill="#fff" stroke="#1f2d3a" stroke-width="1.35" rx="1.2"/>
<rect x="8.3" y="-8.8" width="4.6" height="4.6" fill="#fff" stroke="#1f2d3a" stroke-width="1.35" rx="1.2"/>
<rect x="-12.9" y="4.2" width="4.6" height="4.6" fill="#fff" stroke="#1f2d3a" stroke-width="1.35" rx="1.2"/>
<rect x="8.3" y="4.2" width="4.6" height="4.6" fill="#fff" stroke="#1f2d3a" stroke-width="1.35" rx="1.2"/>
</g>
<rect x="105.7" y="587.5" width="2.6" height="15" fill="#fff" stroke="#8a97a3" stroke-width="0.3" />
<g transform="translate(92.4,629) rotate(90)">
<rect x="-7.5" y="-13" width="15" height="26" fill="#fff" stroke="#5d6b78" stroke-width="0.5" />
<line x1="0" y1="-13" x2="0" y2="13" stroke="#7d8a96" stroke-width="0.7" />
<line x1="-3.8" y1="-11.8" x2="-3.8" y2="11.8" stroke="#8f9ba6" stroke-width="1.3" stroke-dasharray="4.2 2.2 4.2 2.4"/>
<line x1="3.8" y1="-11.8" x2="3.8" y2="11.8" stroke="#8f9ba6" stroke-width="1.3" stroke-dasharray="4.2 2.2 4.2 2.4"/>
<line x1="-7.5" y1="0" x2="7.5" y2="0" stroke="#6f7b87" stroke-width="0.6" />
<circle cx="0" cy="0" r="0.9" fill="#222" stroke="none" stroke-width="1" />
<rect x="-12.9" y="-8.8" width="4.6" height="4.6" fill="#fff" stroke="#1f2d3a" stroke-width="1.35" rx="1.2"/>
<rect x="8.3" y="-8.8" width="4.6" height="4.6" fill="#fff" stroke="#1f2d3a" stroke-width="1.35" rx="1.2"/>
<rect x="-12.9" y="4.2" width="4.6" height="4.6" fill="#fff" stroke="#1f2d3a" stroke-width="1.35" rx="1.2"/>
<rect x="8.3" y="4.2" width="4.6" height="4.6" fill="#fff" stroke="#1f2d3a" stroke-width="1.35" rx="1.2"/>
</g>
<rect x="105.7" y="621.5" width="2.6" height="15" fill="#fff" stroke="#8a97a3" stroke-width="0.3" />
<g transform="translate(92.4,663.5) rotate(90)">
<rect x="-7.5" y="-13" width="15" height="26" fill="#fff" stroke="#5d6b78" stroke-width="0.5" />
<line x1="0" y1="-13" x2="0" y2="13" stroke="#7d8a96" stroke-width="0.7" />
<line x1="-3.8" y1="-11.8" x2="-3.8" y2="11.8" stroke="#8f9ba6" stroke-width="1.3" stroke-dasharray="4.2 2.2 4.2 2.4"/>
<line x1="3.8" y1="-11.8" x2="3.8" y2="11.8" stroke="#8f9ba6" stroke-width="1.3" stroke-dasharray="4.2 2.2 4.2 2.4"/>
<line x1="-7.5" y1="0" x2="7.5" y2="0" stroke="#6f7b87" stroke-width="0.6" />
<circle cx="0" cy="0" r="0.9" fill="#222" stroke="none" stroke-width="1" />
<rect x="-12.9" y="-8.8" width="4.6" height="4.6" fill="#fff" stroke="#1f2d3a" stroke-width="1.35" rx="1.2"/>
<rect x="8.3" y="-8.8" width="4.6" height="4.6" fill="#fff" stroke="#1f2d3a" stroke-width="1.35" rx="1.2"/>
<rect x="-12.9" y="4.2" width="4.6" height="4.6" fill="#fff" stroke="#1f2d3a" stroke-width="1.35" rx="1.2"/>
<rect x="8.3" y="4.2" width="4.6" height="4.6" fill="#fff" stroke="#1f2d3a" stroke-width="1.35" rx="1.2"/>
</g>
<rect x="105.7" y="656" width="2.6" height="15" fill="#fff" stroke="#8a97a3" stroke-width="0.3" />
<g transform="translate(92.4,697) rotate(90)">
<rect x="-7.5" y="-13" width="15" height="26" fill="#fff" stroke="#5d6b78" stroke-width="0.5" />
<line x1="0" y1="-13" x2="0" y2="13" stroke="#7d8a96" stroke-width="0.7" />
<line x1="-3.8" y1="-11.8" x2="-3.8" y2="11.8" stroke="#8f9ba6" stroke-width="1.3" stroke-dasharray="4.2 2.2 4.2 2.4"/>
<line x1="3.8" y1="-11.8" x2="3.8" y2="11.8" stroke="#8f9ba6" stroke-width="1.3" stroke-dasharray="4.2 2.2 4.2 2.4"/>
<line x1="-7.5" y1="0" x2="7.5" y2="0" stroke="#6f7b87" stroke-width="0.6" />
<circle cx="0" cy="0" r="0.9" fill="#222" stroke="none" stroke-width="1" />
<rect x="-12.9" y="-8.8" width="4.6" height="4.6" fill="#fff" stroke="#1f2d3a" stroke-width="1.35" rx="1.2"/>
<rect x="8.3" y="-8.8" width="4.6" height="4.6" fill="#fff" stroke="#1f2d3a" stroke-width="1.35" rx="1.2"/>
<rect x="-12.9" y="4.2" width="4.6" height="4.6" fill="#fff" stroke="#1f2d3a" stroke-width="1.35" rx="1.2"/>
<rect x="8.3" y="4.2" width="4.6" height="4.6" fill="#fff" stroke="#1f2d3a" stroke-width="1.35" rx="1.2"/>
</g>
<rect x="105.7" y="689.5" width="2.6" height="15" fill="#fff" stroke="#8a97a3" stroke-width="0.3" />
<g transform="translate(175.5,700.5) rotate(0)">
<rect x="-7.5" y="-19.5" width="15" height="39" fill="#fff" stroke="#5d6b78" stroke-width="0.5" />
<line x1="0" y1="-19.5" x2="0" y2="19.5" stroke="#7d8a96" stroke-width="0.7" />
<line x1="-3.8" y1="-18.3" x2="-3.8" y2="18.3" stroke="#8f9ba6" stroke-width="1.3" stroke-dasharray="4.2 2.2 4.2 2.4"/>
<line x1="3.8" y1="-18.3" x2="3.8" y2="18.3" stroke="#8f9ba6" stroke-width="1.3" stroke-dasharray="4.2 2.2 4.2 2.4"/>
<line x1="-7.5" y1="-6.5" x2="7.5" y2="-6.5" stroke="#6f7b87" stroke-width="0.6" />
<circle cx="0" cy="-6.5" r="0.9" fill="#222" stroke="none" stroke-width="1" />
<line x1="-7.5" y1="6.5" x2="7.5" y2="6.5" stroke="#6f7b87" stroke-width="0.6" />
<circle cx="0" cy="6.5" r="0.9" fill="#222" stroke="none" stroke-width="1" />
<rect x="-12.9" y="-15.3" width="4.6" height="4.6" fill="#fff" stroke="#1f2d3a" stroke-width="1.35" rx="1.2"/>
<rect x="8.3" y="-15.3" width="4.6" height="4.6" fill="#fff" stroke="#1f2d3a" stroke-width="1.35" rx="1.2"/>
<rect x="-12.9" y="-2.3" width="4.6" height="4.6" fill="#fff" stroke="#1f2d3a" stroke-width="1.35" rx="1.2"/>
<rect x="8.3" y="-2.3" width="4.6" height="4.6" fill="#fff" stroke="#1f2d3a" stroke-width="1.35" rx="1.2"/>
<rect x="-12.9" y="10.7" width="4.6" height="4.6" fill="#fff" stroke="#1f2d3a" stroke-width="1.35" rx="1.2"/>
<rect x="8.3" y="10.7" width="4.6" height="4.6" fill="#fff" stroke="#1f2d3a" stroke-width="1.35" rx="1.2"/>
</g>
<g transform="translate(175.5,646.5) rotate(0)">
<rect x="-7.5" y="-6.5" width="15" height="13" fill="#fff" stroke="#5d6b78" stroke-width="0.5" />
<line x1="0" y1="-6.5" x2="0" y2="6.5" stroke="#7d8a96" stroke-width="0.7" />
<line x1="-3.8" y1="-5.3" x2="-3.8" y2="5.3" stroke="#8f9ba6" stroke-width="1.3" stroke-dasharray="4.2 2.2 4.2 2.4"/>
<line x1="3.8" y1="-5.3" x2="3.8" y2="5.3" stroke="#8f9ba6" stroke-width="1.3" stroke-dasharray="4.2 2.2 4.2 2.4"/>
<rect x="-12.9" y="-2.3" width="4.6" height="4.6" fill="#fff" stroke="#1f2d3a" stroke-width="1.35" rx="1.2"/>
<rect x="8.3" y="-2.3" width="4.6" height="4.6" fill="#fff" stroke="#1f2d3a" stroke-width="1.35" rx="1.2"/>
<rect x="-7.5" y="7.3" width="15" height="2.4" fill="#fff" stroke="#8a97a3" stroke-width="0.3" />
</g>
<g transform="translate(210,700.5) rotate(0)">
<rect x="-7.5" y="-19.5" width="15" height="39" fill="#fff" stroke="#5d6b78" stroke-width="0.5" />
<line x1="0" y1="-19.5" x2="0" y2="19.5" stroke="#7d8a96" stroke-width="0.7" />
<line x1="-3.8" y1="-18.3" x2="-3.8" y2="18.3" stroke="#8f9ba6" stroke-width="1.3" stroke-dasharray="4.2 2.2 4.2 2.4"/>
<line x1="3.8" y1="-18.3" x2="3.8" y2="18.3" stroke="#8f9ba6" stroke-width="1.3" stroke-dasharray="4.2 2.2 4.2 2.4"/>
<line x1="-7.5" y1="-6.5" x2="7.5" y2="-6.5" stroke="#6f7b87" stroke-width="0.6" />
<circle cx="0" cy="-6.5" r="0.9" fill="#222" stroke="none" stroke-width="1" />
<line x1="-7.5" y1="6.5" x2="7.5" y2="6.5" stroke="#6f7b87" stroke-width="0.6" />
<circle cx="0" cy="6.5" r="0.9" fill="#222" stroke="none" stroke-width="1" />
<rect x="-12.9" y="-15.3" width="4.6" height="4.6" fill="#fff" stroke="#1f2d3a" stroke-width="1.35" rx="1.2"/>
<rect x="8.3" y="-15.3" width="4.6" height="4.6" fill="#fff" stroke="#1f2d3a" stroke-width="1.35" rx="1.2"/>
<rect x="-12.9" y="-2.3" width="4.6" height="4.6" fill="#fff" stroke="#1f2d3a" stroke-width="1.35" rx="1.2"/>
<rect x="8.3" y="-2.3" width="4.6" height="4.6" fill="#fff" stroke="#1f2d3a" stroke-width="1.35" rx="1.2"/>
<rect x="-12.9" y="10.7" width="4.6" height="4.6" fill="#fff" stroke="#1f2d3a" stroke-width="1.35" rx="1.2"/>
<rect x="8.3" y="10.7" width="4.6" height="4.6" fill="#fff" stroke="#1f2d3a" stroke-width="1.35" rx="1.2"/>
</g>
<g transform="translate(210,646.5) rotate(0)">
<rect x="-7.5" y="-6.5" width="15" height="13" fill="#fff" stroke="#5d6b78" stroke-width="0.5" />
<line x1="0" y1="-6.5" x2="0" y2="6.5" stroke="#7d8a96" stroke-width="0.7" />
<line x1="-3.8" y1="-5.3" x2="-3.8" y2="5.3" stroke="#8f9ba6" stroke-width="1.3" stroke-dasharray="4.2 2.2 4.2 2.4"/>
<line x1="3.8" y1="-5.3" x2="3.8" y2="5.3" stroke="#8f9ba6" stroke-width="1.3" stroke-dasharray="4.2 2.2 4.2 2.4"/>
<rect x="-12.9" y="-2.3" width="4.6" height="4.6" fill="#fff" stroke="#1f2d3a" stroke-width="1.35" rx="1.2"/>
<rect x="8.3" y="-2.3" width="4.6" height="4.6" fill="#fff" stroke="#1f2d3a" stroke-width="1.35" rx="1.2"/>
<rect x="-7.5" y="7.3" width="15" height="2.4" fill="#fff" stroke="#8a97a3" stroke-width="0.3" />
</g>
<g transform="translate(247.3,700.5) rotate(0)">
<rect x="-7.5" y="-19.5" width="15" height="39" fill="#fff" stroke="#5d6b78" stroke-width="0.5" />
<line x1="0" y1="-19.5" x2="0" y2="19.5" stroke="#7d8a96" stroke-width="0.7" />
<line x1="-3.8" y1="-18.3" x2="-3.8" y2="18.3" stroke="#8f9ba6" stroke-width="1.3" stroke-dasharray="4.2 2.2 4.2 2.4"/>
<line x1="3.8" y1="-18.3" x2="3.8" y2="18.3" stroke="#8f9ba6" stroke-width="1.3" stroke-dasharray="4.2 2.2 4.2 2.4"/>
<line x1="-7.5" y1="-6.5" x2="7.5" y2="-6.5" stroke="#6f7b87" stroke-width="0.6" />
<circle cx="0" cy="-6.5" r="0.9" fill="#222" stroke="none" stroke-width="1" />
<line x1="-7.5" y1="6.5" x2="7.5" y2="6.5" stroke="#6f7b87" stroke-width="0.6" />
<circle cx="0" cy="6.5" r="0.9" fill="#222" stroke="none" stroke-width="1" />
<rect x="-12.9" y="-15.3" width="4.6" height="4.6" fill="#fff" stroke="#1f2d3a" stroke-width="1.35" rx="1.2"/>
<rect x="8.3" y="-15.3" width="4.6" height="4.6" fill="#fff" stroke="#1f2d3a" stroke-width="1.35" rx="1.2"/>
<rect x="-12.9" y="-2.3" width="4.6" height="4.6" fill="#fff" stroke="#1f2d3a" stroke-width="1.35" rx="1.2"/>
<rect x="8.3" y="-2.3" width="4.6" height="4.6" fill="#fff" stroke="#1f2d3a" stroke-width="1.35" rx="1.2"/>
<rect x="-12.9" y="10.7" width="4.6" height="4.6" fill="#fff" stroke="#1f2d3a" stroke-width="1.35" rx="1.2"/>
<rect x="8.3" y="10.7" width="4.6" height="4.6" fill="#fff" stroke="#1f2d3a" stroke-width="1.35" rx="1.2"/>
</g>
<g transform="translate(247.3,646.5) rotate(0)">
<rect x="-7.5" y="-6.5" width="15" height="13" fill="#fff" stroke="#5d6b78" stroke-width="0.5" />
<line x1="0" y1="-6.5" x2="0" y2="6.5" stroke="#7d8a96" stroke-width="0.7" />
<line x1="-3.8" y1="-5.3" x2="-3.8" y2="5.3" stroke="#8f9ba6" stroke-width="1.3" stroke-dasharray="4.2 2.2 4.2 2.4"/>
<line x1="3.8" y1="-5.3" x2="3.8" y2="5.3" stroke="#8f9ba6" stroke-width="1.3" stroke-dasharray="4.2 2.2 4.2 2.4"/>
<rect x="-12.9" y="-2.3" width="4.6" height="4.6" fill="#fff" stroke="#1f2d3a" stroke-width="1.35" rx="1.2"/>
<rect x="8.3" y="-2.3" width="4.6" height="4.6" fill="#fff" stroke="#1f2d3a" stroke-width="1.35" rx="1.2"/>
<rect x="-7.5" y="7.3" width="15" height="2.4" fill="#fff" stroke="#8a97a3" stroke-width="0.3" />
</g>
<g transform="translate(282,700.5) rotate(0)">
<rect x="-7.5" y="-19.5" width="15" height="39" fill="#fff" stroke="#5d6b78" stroke-width="0.5" />
<line x1="0" y1="-19.5" x2="0" y2="19.5" stroke="#7d8a96" stroke-width="0.7" />
<line x1="-3.8" y1="-18.3" x2="-3.8" y2="18.3" stroke="#8f9ba6" stroke-width="1.3" stroke-dasharray="4.2 2.2 4.2 2.4"/>
<line x1="3.8" y1="-18.3" x2="3.8" y2="18.3" stroke="#8f9ba6" stroke-width="1.3" stroke-dasharray="4.2 2.2 4.2 2.4"/>
<line x1="-7.5" y1="-6.5" x2="7.5" y2="-6.5" stroke="#6f7b87" stroke-width="0.6" />
<circle cx="0" cy="-6.5" r="0.9" fill="#222" stroke="none" stroke-width="1" />
<line x1="-7.5" y1="6.5" x2="7.5" y2="6.5" stroke="#6f7b87" stroke-width="0.6" />
<circle cx="0" cy="6.5" r="0.9" fill="#222" stroke="none" stroke-width="1" />
<rect x="-12.9" y="-15.3" width="4.6" height="4.6" fill="#fff" stroke="#1f2d3a" stroke-width="1.35" rx="1.2"/>
<rect x="8.3" y="-15.3" width="4.6" height="4.6" fill="#fff" stroke="#1f2d3a" stroke-width="1.35" rx="1.2"/>
<rect x="-12.9" y="-2.3" width="4.6" height="4.6" fill="#fff" stroke="#1f2d3a" stroke-width="1.35" rx="1.2"/>
<rect x="8.3" y="-2.3" width="4.6" height="4.6" fill="#fff" stroke="#1f2d3a" stroke-width="1.35" rx="1.2"/>
<rect x="-12.9" y="10.7" width="4.6" height="4.6" fill="#fff" stroke="#1f2d3a" stroke-width="1.35" rx="1.2"/>
<rect x="8.3" y="10.7" width="4.6" height="4.6" fill="#fff" stroke="#1f2d3a" stroke-width="1.35" rx="1.2"/>
</g>
<g transform="translate(282,646.5) rotate(0)">
<rect x="-7.5" y="-6.5" width="15" height="13" fill="#fff" stroke="#5d6b78" stroke-width="0.5" />
<line x1="0" y1="-6.5" x2="0" y2="6.5" stroke="#7d8a96" stroke-width="0.7" />
<line x1="-3.8" y1="-5.3" x2="-3.8" y2="5.3" stroke="#8f9ba6" stroke-width="1.3" stroke-dasharray="4.2 2.2 4.2 2.4"/>
<line x1="3.8" y1="-5.3" x2="3.8" y2="5.3" stroke="#8f9ba6" stroke-width="1.3" stroke-dasharray="4.2 2.2 4.2 2.4"/>
<rect x="-12.9" y="-2.3" width="4.6" height="4.6" fill="#fff" stroke="#1f2d3a" stroke-width="1.35" rx="1.2"/>
<rect x="8.3" y="-2.3" width="4.6" height="4.6" fill="#fff" stroke="#1f2d3a" stroke-width="1.35" rx="1.2"/>
<rect x="-7.5" y="7.3" width="15" height="2.4" fill="#fff" stroke="#8a97a3" stroke-width="0.3" />
</g>
<g transform="translate(177.8,555.4) rotate(0)">
<rect x="-7.5" y="-13" width="15" height="26" fill="#fff" stroke="#5d6b78" stroke-width="0.5" />
<line x1="0" y1="-13" x2="0" y2="13" stroke="#7d8a96" stroke-width="0.7" />
<line x1="-3.8" y1="-11.8" x2="-3.8" y2="11.8" stroke="#8f9ba6" stroke-width="1.3" stroke-dasharray="4.2 2.2 4.2 2.4"/>
<line x1="3.8" y1="-11.8" x2="3.8" y2="11.8" stroke="#8f9ba6" stroke-width="1.3" stroke-dasharray="4.2 2.2 4.2 2.4"/>
<line x1="-7.5" y1="0" x2="7.5" y2="0" stroke="#6f7b87" stroke-width="0.6" />
<circle cx="0" cy="0" r="0.9" fill="#222" stroke="none" stroke-width="1" />
<rect x="-12.9" y="-8.8" width="4.6" height="4.6" fill="#fff" stroke="#1f2d3a" stroke-width="1.35" rx="1.2"/>
<rect x="8.3" y="-8.8" width="4.6" height="4.6" fill="#fff" stroke="#1f2d3a" stroke-width="1.35" rx="1.2"/>
<rect x="-12.9" y="4.2" width="4.6" height="4.6" fill="#fff" stroke="#1f2d3a" stroke-width="1.35" rx="1.2"/>
<rect x="8.3" y="4.2" width="4.6" height="4.6" fill="#fff" stroke="#1f2d3a" stroke-width="1.35" rx="1.2"/>
</g>
<rect x="170.3" y="538.8" width="15" height="3.2" fill="#fff" stroke="#8a97a3" stroke-width="0.3" />
<g transform="translate(211.9,555.4) rotate(0)">
<rect x="-7.5" y="-13" width="15" height="26" fill="#fff" stroke="#5d6b78" stroke-width="0.5" />
<line x1="0" y1="-13" x2="0" y2="13" stroke="#7d8a96" stroke-width="0.7" />
<line x1="-3.8" y1="-11.8" x2="-3.8" y2="11.8" stroke="#8f9ba6" stroke-width="1.3" stroke-dasharray="4.2 2.2 4.2 2.4"/>
<line x1="3.8" y1="-11.8" x2="3.8" y2="11.8" stroke="#8f9ba6" stroke-width="1.3" stroke-dasharray="4.2 2.2 4.2 2.4"/>
<line x1="-7.5" y1="0" x2="7.5" y2="0" stroke="#6f7b87" stroke-width="0.6" />
<circle cx="0" cy="0" r="0.9" fill="#222" stroke="none" stroke-width="1" />
<rect x="-12.9" y="-8.8" width="4.6" height="4.6" fill="#fff" stroke="#1f2d3a" stroke-width="1.35" rx="1.2"/>
<rect x="8.3" y="-8.8" width="4.6" height="4.6" fill="#fff" stroke="#1f2d3a" stroke-width="1.35" rx="1.2"/>
<rect x="-12.9" y="4.2" width="4.6" height="4.6" fill="#fff" stroke="#1f2d3a" stroke-width="1.35" rx="1.2"/>
<rect x="8.3" y="4.2" width="4.6" height="4.6" fill="#fff" stroke="#1f2d3a" stroke-width="1.35" rx="1.2"/>
</g>
<rect x="204.4" y="538.8" width="15" height="3.2" fill="#fff" stroke="#8a97a3" stroke-width="0.3" />
<g transform="translate(248.1,555.4) rotate(0)">
<rect x="-7.5" y="-13" width="15" height="26" fill="#fff" stroke="#5d6b78" stroke-width="0.5" />
<line x1="0" y1="-13" x2="0" y2="13" stroke="#7d8a96" stroke-width="0.7" />
<line x1="-3.8" y1="-11.8" x2="-3.8" y2="11.8" stroke="#8f9ba6" stroke-width="1.3" stroke-dasharray="4.2 2.2 4.2 2.4"/>
<line x1="3.8" y1="-11.8" x2="3.8" y2="11.8" stroke="#8f9ba6" stroke-width="1.3" stroke-dasharray="4.2 2.2 4.2 2.4"/>
<line x1="-7.5" y1="0" x2="7.5" y2="0" stroke="#6f7b87" stroke-width="0.6" />
<circle cx="0" cy="0" r="0.9" fill="#222" stroke="none" stroke-width="1" />
<rect x="-12.9" y="-8.8" width="4.6" height="4.6" fill="#fff" stroke="#1f2d3a" stroke-width="1.35" rx="1.2"/>
<rect x="8.3" y="-8.8" width="4.6" height="4.6" fill="#fff" stroke="#1f2d3a" stroke-width="1.35" rx="1.2"/>
<rect x="-12.9" y="4.2" width="4.6" height="4.6" fill="#fff" stroke="#1f2d3a" stroke-width="1.35" rx="1.2"/>
<rect x="8.3" y="4.2" width="4.6" height="4.6" fill="#fff" stroke="#1f2d3a" stroke-width="1.35" rx="1.2"/>
</g>
<rect x="240.6" y="538.8" width="15" height="3.2" fill="#fff" stroke="#8a97a3" stroke-width="0.3" />
<rect x="147.5" y="579" width="9.3" height="53" fill="#fff" stroke="#444" stroke-width="0.7" />
<line x1="147.5" y1="588" x2="156.8" y2="588" stroke="#555" stroke-width="0.5" />
<line x1="147.5" y1="597" x2="156.8" y2="597" stroke="#555" stroke-width="0.5" />
<line x1="147.5" y1="606" x2="156.8" y2="606" stroke="#555" stroke-width="0.5" />
<line x1="147.5" y1="615" x2="156.8" y2="615" stroke="#555" stroke-width="0.5" />
<line x1="147.5" y1="624" x2="156.8" y2="624" stroke="#555" stroke-width="0.5" />
<line x1="153.5" y1="579" x2="153.5" y2="632" stroke="#555" stroke-width="0.5" />
<rect x="300.2" y="579" width="9.3" height="53" fill="#fff" stroke="#444" stroke-width="0.7" />
<line x1="300.2" y1="588" x2="309.5" y2="588" stroke="#555" stroke-width="0.5" />
<line x1="300.2" y1="597" x2="309.5" y2="597" stroke="#555" stroke-width="0.5" />
<line x1="300.2" y1="606" x2="309.5" y2="606" stroke="#555" stroke-width="0.5" />
<line x1="300.2" y1="615" x2="309.5" y2="615" stroke="#555" stroke-width="0.5" />
<line x1="300.2" y1="624" x2="309.5" y2="624" stroke="#555" stroke-width="0.5" />
<line x1="303.5" y1="579" x2="303.5" y2="632" stroke="#555" stroke-width="0.5" />
<rect x="144.5" y="590.5" width="3" height="3" fill="#fff" stroke="#1f2d3a" stroke-width="0.9" />
<rect x="144.5" y="611.5" width="3" height="3" fill="#fff" stroke="#1f2d3a" stroke-width="0.9" />
<rect x="144.5" y="623.5" width="3" height="3" fill="#fff" stroke="#1f2d3a" stroke-width="0.9" />
<rect x="309" y="590.5" width="3" height="3" fill="#fff" stroke="#1f2d3a" stroke-width="0.9" />
<rect x="309" y="611.5" width="3" height="3" fill="#fff" stroke="#1f2d3a" stroke-width="0.9" />
<rect x="309" y="623.5" width="3" height="3" fill="#fff" stroke="#1f2d3a" stroke-width="0.9" />
<circle cx="143" cy="600" r="2" fill="#fff" stroke="#444" stroke-width="0.7" />
<circle cx="313.5" cy="600" r="2" fill="#fff" stroke="#444" stroke-width="0.7" />
<rect x="134.5" y="582.5" width="6" height="6" fill="#fff" stroke="#555" stroke-width="0.6" rx="1.8" transform="rotate(20 137.5 585.5)"/>
<rect x="134" y="622" width="6" height="6" fill="#fff" stroke="#555" stroke-width="0.6" rx="1.8" transform="rotate(20 137 625)"/>
<g transform="translate(151.5,551.4) rotate(0)">
<rect x="-5.75" y="-11.5" width="11.5" height="23" fill="#d49a60" stroke="#4a3a2a" stroke-width="0.7" />
<circle cx="0" cy="-7.67" r="1.9" fill="#fff" stroke="#b5523a" stroke-width="0.6" />
<circle cx="0" cy="0" r="1.9" fill="#fff" stroke="#b5523a" stroke-width="0.6" />
<circle cx="0" cy="7.67" r="1.9" fill="#fff" stroke="#b5523a" stroke-width="0.6" />
</g>
<path d="M146 556 L140 556 A6 6 0 0 1 146 550" fill="none" stroke="#1f3a5a" stroke-width="0.6"/>
<g transform="translate(149.6,694.4) rotate(0)">
<rect x="-5.75" y="-11.75" width="11.5" height="23.5" fill="#d49a60" stroke="#4a3a2a" stroke-width="0.7" />
<circle cx="0" cy="-7.83" r="1.9" fill="#fff" stroke="#b5523a" stroke-width="0.6" />
<circle cx="0" cy="0" r="1.9" fill="#fff" stroke="#b5523a" stroke-width="0.6" />
<circle cx="0" cy="7.83" r="1.9" fill="#fff" stroke="#b5523a" stroke-width="0.6" />
</g>
<path d="M143.8 698 L137.3 698 A6.5 6.5 0 0 1 143.8 691.5" fill="none" stroke="#1f3a5a" stroke-width="0.6"/>
<rect x="146.5" y="645.5" width="8" height="9" fill="#d49a60" stroke="#4a3a2a" stroke-width="0.7" />
<path d="M146.5 654.5 L138.5 654.5 A8 8 0 0 1 146.5 646.5" fill="none" stroke="#1f3a5a" stroke-width="0.6"/>
<rect x="300" y="645.5" width="8" height="9" fill="#d49a60" stroke="#4a3a2a" stroke-width="0.7" />
<path d="M308 654.5 L308 646.5 A8 8 0 0 1 316 654.5" fill="none" stroke="#1f3a5a" stroke-width="0.6"/>
<circle cx="78.5" cy="567" r="1.3" fill="#8099a1" stroke="#2a4a5c" stroke-width="0.6" />
<circle cx="78.5" cy="642.5" r="1.3" fill="#8099a1" stroke="#2a4a5c" stroke-width="0.6" />
<circle cx="78.5" cy="717.5" r="1.3" fill="#8099a1" stroke="#2a4a5c" stroke-width="0.6" />
<circle cx="154" cy="717.5" r="1.3" fill="#8099a1" stroke="#2a4a5c" stroke-width="0.6" />
<circle cx="154" cy="568" r="1.3" fill="#8099a1" stroke="#2a4a5c" stroke-width="0.6" />
<circle cx="229" cy="567.8" r="1.3" fill="#8099a1" stroke="#2a4a5c" stroke-width="0.6" />
<circle cx="229" cy="642.5" r="1.3" fill="#8099a1" stroke="#2a4a5c" stroke-width="0.6" />
<circle cx="229" cy="717.5" r="1.3" fill="#8099a1" stroke="#2a4a5c" stroke-width="0.6" />
<circle cx="303.5" cy="642.5" r="1.3" fill="#8099a1" stroke="#2a4a5c" stroke-width="0.6" />
<circle cx="303.5" cy="717" r="1.3" fill="#8099a1" stroke="#2a4a5c" stroke-width="0.6" />
<polyline points="145,519 274,519 274,555.3 317,555.3 317,568 331,568" fill="none" stroke="#111" stroke-width="1.5" />
<polygon points="331,568.3 338,568.3 364.8,583 364.8,597 371.3,597 371.3,629 331,629" fill="#e3c9bc" stroke="#1a1a1a" stroke-width="1.5" />
<line x1="331" y1="597" x2="364.8" y2="597" stroke="#1a1a1a" stroke-width="1.3" />
<rect x="337" y="588" width="19" height="8" fill="#fff" stroke="#444" stroke-width="0.7" />
<circle cx="338.5" cy="583" r="1.6" fill="#fff" stroke="#555" stroke-width="0.5" />
<rect x="353" y="586" width="3" height="3" fill="#fff" stroke="#1f2d3a" stroke-width="0.9" />
<g transform="translate(349.4,610) rotate(0)">
<rect x="-8.05" y="-8.67" width="4" height="4" fill="#fff" stroke="#1f2d3a" stroke-width="0.9" rx="0.8"/>
<rect x="4.05" y="-8.67" width="4" height="4" fill="#fff" stroke="#1f2d3a" stroke-width="0.9" rx="0.8"/>
<rect x="-8.05" y="-2" width="4" height="4" fill="#fff" stroke="#1f2d3a" stroke-width="0.9" rx="0.8"/>
<rect x="4.05" y="-2" width="4" height="4" fill="#fff" stroke="#1f2d3a" stroke-width="0.9" rx="0.8"/>
<rect x="-8.05" y="4.67" width="4" height="4" fill="#fff" stroke="#1f2d3a" stroke-width="0.9" rx="0.8"/>
<rect x="4.05" y="4.67" width="4" height="4" fill="#fff" stroke="#1f2d3a" stroke-width="0.9" rx="0.8"/>
<rect x="-3.25" y="-10" width="6.5" height="20" fill="#fff" stroke="#555" stroke-width="0.5" />
</g>
<path d="M331.3 572 L325.3 572 A6 6 0 0 1 331.3 566" fill="none" stroke="#1f3a5a" stroke-width="0.6"/>
<path d="M331.3 620 L331.3 626 A6 6 0 0 1 325.3 620" fill="none" stroke="#1f3a5a" stroke-width="0.6"/>
<rect x="331" y="630" width="34" height="25.5" fill="#cde9f2" stroke="#111" stroke-width="2.2" />
<rect x="365" y="630" width="11.3" height="25.5" fill="#b8bbc8" stroke="#111" stroke-width="1.4" />
<rect x="367.5" y="633" width="6" height="20" fill="#a9aebd" stroke="#333" stroke-width="0.5" />
<rect x="376.3" y="630" width="35" height="25.5" fill="#cde9f2" stroke="#111" stroke-width="2.2" />
<line x1="343" y1="630" x2="343" y2="655.5" stroke="#111" stroke-width="1.4" />
<line x1="390" y1="630" x2="390" y2="655.5" stroke="#111" stroke-width="1.4" />
<line x1="400" y1="630" x2="400" y2="655.5" stroke="#111" stroke-width="1.4" />
<polyline points="333,641 335.7,648 337.5,642 339.75,648 342,641" fill="none" stroke="#1f4a5a" stroke-width="0.7" />
<polyline points="345,641 350.4,648 354,642 358.5,648 363,641" fill="none" stroke="#1f4a5a" stroke-width="0.7" />
<polyline points="378,641 381.3,648 383.5,642 386.25,648 389,641" fill="none" stroke="#1f4a5a" stroke-width="0.7" />
<polyline points="391,641 396.7,648 400.5,642 405.25,648 410,641" fill="none" stroke="#1f4a5a" stroke-width="0.7" />
<rect x="334.5" y="633" width="2.6" height="4" fill="#223" stroke="none" stroke-width="1" />
<rect x="346.5" y="633" width="2.6" height="4" fill="#223" stroke="none" stroke-width="1" />
<rect x="380" y="633" width="2.6" height="4" fill="#223" stroke="none" stroke-width="1" />
<rect x="402" y="633" width="2.6" height="4" fill="#223" stroke="none" stroke-width="1" />
<path d="M337 655.5 L342 655.5 A5 5 0 0 1 337 660.5" fill="none" stroke="#1f3a5a" stroke-width="0.6"/>
<path d="M348 655.5 L353 655.5 A5 5 0 0 1 348 660.5" fill="none" stroke="#1f3a5a" stroke-width="0.6"/>
<path d="M359 655.5 L364 655.5 A5 5 0 0 1 359 660.5" fill="none" stroke="#1f3a5a" stroke-width="0.6"/>
<path d="M385 655.5 L390 655.5 A5 5 0 0 1 385 660.5" fill="none" stroke="#1f3a5a" stroke-width="0.6"/>
<path d="M402 655.5 L407 655.5 A5 5 0 0 1 402 660.5" fill="none" stroke="#1f3a5a" stroke-width="0.6"/>
<rect x="411.3" y="630" width="52.2" height="25.5" fill="#fff" stroke="#111" stroke-width="1.8" />
<rect x="465" y="630" width="19.5" height="25.5" fill="#fff" stroke="#111" stroke-width="1.8" />
<rect x="486.5" y="635" width="18.5" height="20" fill="#fff" stroke="#111" stroke-width="1.5" />
<rect x="489.5" y="638" width="12.5" height="14" fill="#fff" stroke="#333" stroke-width="0.8" />
<polyline points="455,629 458.5,634 462,629" fill="none" stroke="#111" stroke-width="0.6" />
<polyline points="455,657 458.5,652 462,657" fill="none" stroke="#111" stroke-width="0.6" />
<ellipse cx="458.5" cy="621" rx="1.2" ry="2" fill="#111"/><ellipse cx="458.5" cy="662.5" rx="1.2" ry="2" fill="#111"/>
<circle cx="456.5" cy="643.5" r="1.6" fill="#fff" stroke="#333" stroke-width="0.5" />
<rect x="328.8" y="672.5" width="75" height="48.5" fill="#e3c9bc" stroke="#1a1a1a" stroke-width="1.1" />
<rect x="328.8" y="672.5" width="75" height="6" fill="#fff" stroke="#333" stroke-width="0.6" />
<g transform="translate(321.3,685) rotate(0)">
<rect x="-5.75" y="-11" width="11.5" height="22" fill="#d49a60" stroke="#4a3a2a" stroke-width="0.7" />
<circle cx="0" cy="-7.33" r="1.9" fill="#fff" stroke="#b5523a" stroke-width="0.6" />
<circle cx="0" cy="0" r="1.9" fill="#fff" stroke="#b5523a" stroke-width="0.6" />
<circle cx="0" cy="7.33" r="1.9" fill="#fff" stroke="#b5523a" stroke-width="0.6" />
</g>
<g transform="translate(321.3,708.5) rotate(0)">
<rect x="-5.75" y="-11" width="11.5" height="22" fill="#d49a60" stroke="#4a3a2a" stroke-width="0.7" />
<circle cx="0" cy="-7.33" r="1.9" fill="#fff" stroke="#b5523a" stroke-width="0.6" />
<circle cx="0" cy="0" r="1.9" fill="#fff" stroke="#b5523a" stroke-width="0.6" />
<circle cx="0" cy="7.33" r="1.9" fill="#fff" stroke="#b5523a" stroke-width="0.6" />
</g>
<path d="M315.5 690 L309.5 690 A6 6 0 0 1 315.5 684" fill="none" stroke="#1f3a5a" stroke-width="0.6"/>
<path d="M315.5 713 L309.5 713 A6 6 0 0 1 315.5 707" fill="none" stroke="#1f3a5a" stroke-width="0.6"/>
<rect x="335" y="694" width="55" height="11" fill="#fff" stroke="#555" stroke-width="0.5" />
<line x1="362.5" y1="694" x2="362.5" y2="705" stroke="#555" stroke-width="0.4" />
<rect x="336.6" y="688.2" width="4.4" height="4.4" fill="#fff" stroke="#1f2d3a" stroke-width="1" rx="0.9"/>
<rect x="336.6" y="706" width="4.4" height="4.4" fill="#fff" stroke="#1f2d3a" stroke-width="1" rx="0.9"/>
<rect x="343.35" y="688.2" width="4.4" height="4.4" fill="#fff" stroke="#1f2d3a" stroke-width="1" rx="0.9"/>
<rect x="343.35" y="706" width="4.4" height="4.4" fill="#fff" stroke="#1f2d3a" stroke-width="1" rx="0.9"/>
<rect x="350.1" y="688.2" width="4.4" height="4.4" fill="#fff" stroke="#1f2d3a" stroke-width="1" rx="0.9"/>
<rect x="350.1" y="706" width="4.4" height="4.4" fill="#fff" stroke="#1f2d3a" stroke-width="1" rx="0.9"/>
<rect x="356.85" y="688.2" width="4.4" height="4.4" fill="#fff" stroke="#1f2d3a" stroke-width="1" rx="0.9"/>
<rect x="356.85" y="706" width="4.4" height="4.4" fill="#fff" stroke="#1f2d3a" stroke-width="1" rx="0.9"/>
<rect x="363.6" y="688.2" width="4.4" height="4.4" fill="#fff" stroke="#1f2d3a" stroke-width="1" rx="0.9"/>
<rect x="363.6" y="706" width="4.4" height="4.4" fill="#fff" stroke="#1f2d3a" stroke-width="1" rx="0.9"/>
<rect x="370.35" y="688.2" width="4.4" height="4.4" fill="#fff" stroke="#1f2d3a" stroke-width="1" rx="0.9"/>
<rect x="370.35" y="706" width="4.4" height="4.4" fill="#fff" stroke="#1f2d3a" stroke-width="1" rx="0.9"/>
<rect x="377.1" y="688.2" width="4.4" height="4.4" fill="#fff" stroke="#1f2d3a" stroke-width="1" rx="0.9"/>
<rect x="377.1" y="706" width="4.4" height="4.4" fill="#fff" stroke="#1f2d3a" stroke-width="1" rx="0.9"/>
<rect x="383.85" y="688.2" width="4.4" height="4.4" fill="#fff" stroke="#1f2d3a" stroke-width="1" rx="0.9"/>
<rect x="383.85" y="706" width="4.4" height="4.4" fill="#fff" stroke="#1f2d3a" stroke-width="1" rx="0.9"/>
<path d="M404 690 L404 683.5 A6.5 6.5 0 0 1 410.5 690" fill="none" stroke="#1f3a5a" stroke-width="0.6"/>
<path d="M404 703 L410.5 703 A6.5 6.5 0 0 1 404 709.5" fill="none" stroke="#1f3a5a" stroke-width="0.6"/>
<polyline points="330,672 332.5,668.5 335,672" fill="none" stroke="#111" stroke-width="0.5" />
<polyline points="335,672 337.5,668.5 340,672" fill="none" stroke="#111" stroke-width="0.5" />
<polyline points="340,672 342.5,668.5 345,672" fill="none" stroke="#111" stroke-width="0.5" />
<polyline points="345,672 347.5,668.5 350,672" fill="none" stroke="#111" stroke-width="0.5" />
<polyline points="350,672 352.5,668.5 355,672" fill="none" stroke="#111" stroke-width="0.5" />
<polyline points="355,672 357.5,668.5 360,672" fill="none" stroke="#111" stroke-width="0.5" />
<polyline points="360,672 362.5,668.5 365,672" fill="none" stroke="#111" stroke-width="0.5" />
<rect x="424.5" y="685" width="10" height="32.5" fill="#fff" stroke="#444" stroke-width="0.7" />
<rect x="463.8" y="685" width="8.7" height="32.5" fill="#fff" stroke="#444" stroke-width="0.7" />
<line x1="424.5" y1="696" x2="434.5" y2="696" stroke="#555" stroke-width="0.5" />
<line x1="463.8" y1="696" x2="472.5" y2="696" stroke="#555" stroke-width="0.5" />
<line x1="424.5" y1="707" x2="434.5" y2="707" stroke="#555" stroke-width="0.5" />
<line x1="463.8" y1="707" x2="472.5" y2="707" stroke="#555" stroke-width="0.5" />
<rect x="446.8" y="686.8" width="6.4" height="6.4" fill="#fff" stroke="#555" stroke-width="0.6" rx="2" transform="rotate(25 450 690)"/>
<rect x="443.3" y="706.3" width="6.4" height="6.4" fill="#fff" stroke="#555" stroke-width="0.6" rx="2" transform="rotate(25 446.5 709.5)"/>
<circle cx="459.5" cy="692.5" r="2" fill="#fff" stroke="#444" stroke-width="0.7" />
<circle cx="437.5" cy="699" r="2" fill="#fff" stroke="#444" stroke-width="0.7" />
<circle cx="437.5" cy="709.5" r="2" fill="#fff" stroke="#444" stroke-width="0.7" />
<rect x="431.5" y="688" width="3" height="3" fill="#fff" stroke="#1f2d3a" stroke-width="0.9" />
<rect x="461.5" y="697" width="3" height="3" fill="#fff" stroke="#1f2d3a" stroke-width="0.9" />
<rect x="461.5" y="710.5" width="3" height="3" fill="#fff" stroke="#1f2d3a" stroke-width="0.9" />
<g transform="translate(498,699.5) rotate(0)">
<rect x="-9.75" y="-12.8" width="3.2" height="3.2" fill="#fff" stroke="#1f2d3a" stroke-width="0.9" rx="0.8"/>
<rect x="6.55" y="-12.8" width="3.2" height="3.2" fill="#fff" stroke="#1f2d3a" stroke-width="0.9" rx="0.8"/>
<rect x="-9.75" y="-7.2" width="3.2" height="3.2" fill="#fff" stroke="#1f2d3a" stroke-width="0.9" rx="0.8"/>
<rect x="6.55" y="-7.2" width="3.2" height="3.2" fill="#fff" stroke="#1f2d3a" stroke-width="0.9" rx="0.8"/>
<rect x="-9.75" y="-1.6" width="3.2" height="3.2" fill="#fff" stroke="#1f2d3a" stroke-width="0.9" rx="0.8"/>
<rect x="6.55" y="-1.6" width="3.2" height="3.2" fill="#fff" stroke="#1f2d3a" stroke-width="0.9" rx="0.8"/>
<rect x="-9.75" y="4" width="3.2" height="3.2" fill="#fff" stroke="#1f2d3a" stroke-width="0.9" rx="0.8"/>
<rect x="6.55" y="4" width="3.2" height="3.2" fill="#fff" stroke="#1f2d3a" stroke-width="0.9" rx="0.8"/>
<rect x="-9.75" y="9.6" width="3.2" height="3.2" fill="#fff" stroke="#1f2d3a" stroke-width="0.9" rx="0.8"/>
<rect x="6.55" y="9.6" width="3.2" height="3.2" fill="#fff" stroke="#1f2d3a" stroke-width="0.9" rx="0.8"/>
<rect x="-5.75" y="-14" width="11.5" height="28" fill="#fff" stroke="#555" stroke-width="0.5" />
</g>
<rect x="519.5" y="650" width="6.8" height="72" fill="#fff" stroke="#222" stroke-width="0.8" />
<line x1="519.5" y1="656" x2="526.3" y2="656" stroke="#222" stroke-width="0.8" />
<line x1="519.5" y1="662" x2="526.3" y2="662" stroke="#222" stroke-width="0.8" />
<line x1="519.5" y1="668" x2="526.3" y2="668" stroke="#222" stroke-width="0.8" />
<line x1="519.5" y1="674" x2="526.3" y2="674" stroke="#222" stroke-width="0.8" />
<line x1="519.5" y1="680" x2="526.3" y2="680" stroke="#222" stroke-width="0.8" />
<line x1="519.5" y1="686" x2="526.3" y2="686" stroke="#222" stroke-width="0.8" />
<line x1="519.5" y1="692" x2="526.3" y2="692" stroke="#222" stroke-width="0.8" />
<line x1="519.5" y1="698" x2="526.3" y2="698" stroke="#222" stroke-width="0.8" />
<line x1="519.5" y1="704" x2="526.3" y2="704" stroke="#222" stroke-width="0.8" />
<line x1="519.5" y1="710" x2="526.3" y2="710" stroke="#222" stroke-width="0.8" />
<line x1="519.5" y1="716" x2="526.3" y2="716" stroke="#222" stroke-width="0.8" />
<rect x="526.3" y="680" width="3.7" height="42" fill="#fff" stroke="#555" stroke-width="0.5" />
<rect x="478.8" y="590" width="7.2" height="17.5" fill="#b8bbc8" stroke="#333" stroke-width="0.8" />
<line x1="486" y1="607.5" x2="486" y2="656" stroke="#111" stroke-width="1.2" />
<polyline points="498.8,571 486,591" fill="none" stroke="#111" stroke-width="0.9" />
<g transform="translate(501.5,581) rotate(30)">
<rect x="-3.6" y="-4.2" width="7.2" height="8.4" fill="#d49a60" stroke="#4a3a2a" stroke-width="0.7" />
</g>
<path d="M506 579 L511.63 582.25 A6.5 6.5 0 0 1 503.78 585.11" fill="none" stroke="#1f3a5a" stroke-width="0.6"/>
<g transform="translate(496,590.3) rotate(30)">
<rect x="-3.6" y="-4.2" width="7.2" height="8.4" fill="#d49a60" stroke="#4a3a2a" stroke-width="0.7" />
</g>
<path d="M500.5 588.3 L506.13 591.55 A6.5 6.5 0 0 1 498.28 594.41" fill="none" stroke="#1f3a5a" stroke-width="0.6"/>
<rect x="506.3" y="616.3" width="50" height="6.2" fill="#fff" stroke="#333" stroke-width="0.6" />
<rect x="507" y="617" width="4.4" height="4.8" fill="#eef1f3" stroke="#1a1a1a" stroke-width="0.9" />
<rect x="512.4" y="617" width="4.4" height="4.8" fill="#eef1f3" stroke="#1a1a1a" stroke-width="0.9" />
<rect x="517.8" y="617" width="4.4" height="4.8" fill="#eef1f3" stroke="#1a1a1a" stroke-width="0.9" />
<rect x="523.2" y="617" width="4.4" height="4.8" fill="#eef1f3" stroke="#1a1a1a" stroke-width="0.9" />
<rect x="528.6" y="617" width="4.4" height="4.8" fill="#eef1f3" stroke="#1a1a1a" stroke-width="0.9" />
<rect x="534" y="617" width="4.4" height="4.8" fill="#eef1f3" stroke="#1a1a1a" stroke-width="0.9" />
<rect x="539.4" y="617" width="4.4" height="4.8" fill="#eef1f3" stroke="#1a1a1a" stroke-width="0.9" />
<rect x="544.8" y="617" width="4.4" height="4.8" fill="#eef1f3" stroke="#1a1a1a" stroke-width="0.9" />
<rect x="550.2" y="617" width="4.4" height="4.8" fill="#eef1f3" stroke="#1a1a1a" stroke-width="0.9" />
<rect x="506.3" y="622.5" width="33.7" height="27.5" fill="#cde9f2" stroke="#111" stroke-width="1.3" />
<line x1="506.3" y1="637" x2="540" y2="637" stroke="#111" stroke-width="0.8" />
<line x1="523" y1="622.5" x2="523" y2="650" stroke="#111" stroke-width="0.8" />
<rect x="541.3" y="623.5" width="15" height="26.5" fill="#fff" stroke="#111" stroke-width="1.3" />
<rect x="552.5" y="625" width="3.8" height="23" fill="#fff" stroke="#555" stroke-width="0.4" />
<rect x="508" y="650" width="19" height="11" fill="#fff" stroke="#333" stroke-width="0.5" />
<rect x="509" y="651" width="5" height="4.5" fill="#eef1f3" stroke="#1a1a1a" stroke-width="0.8" />
<rect x="515" y="651" width="5" height="4.5" fill="#eef1f3" stroke="#1a1a1a" stroke-width="0.8" />
<rect x="521" y="651" width="5" height="4.5" fill="#eef1f3" stroke="#1a1a1a" stroke-width="0.8" />
<polyline points="546.5,616 549,610 551.5,614.5 554,610 556.5,616" fill="none" stroke="#1f3a5a" stroke-width="0.6" />
<g transform="translate(654.5,320) rotate(30)">
<rect x="157.2" y="0" width="10.8" height="375" fill="#fff" stroke="#111" stroke-width="1.1" />
<line x1="157.2" y1="0" x2="157.2" y2="375" stroke="#111" stroke-width="2.8" />
<line x1="157.2" y1="24.8" x2="168" y2="24.8" stroke="#111" stroke-width="1" />
<polyline points="167.3,45.1 159,48.7 167.3,52.3" fill="none" stroke="#111" stroke-width="0.8" />
<line x1="157.2" y1="48.7" x2="168" y2="48.7" stroke="#111" stroke-width="0.7" />
<line x1="157.2" y1="74.65" x2="168" y2="74.65" stroke="#111" stroke-width="1" />
<polyline points="167.3,94.95 159,98.55 167.3,102.15" fill="none" stroke="#111" stroke-width="0.8" />
<line x1="157.2" y1="98.55" x2="168" y2="98.55" stroke="#111" stroke-width="0.7" />
<line x1="157.2" y1="124.5" x2="168" y2="124.5" stroke="#111" stroke-width="1" />
<polyline points="167.3,144.8 159,148.4 167.3,152" fill="none" stroke="#111" stroke-width="0.8" />
<line x1="157.2" y1="148.4" x2="168" y2="148.4" stroke="#111" stroke-width="0.7" />
<line x1="157.2" y1="174.35" x2="168" y2="174.35" stroke="#111" stroke-width="1" />
<polyline points="167.3,194.65 159,198.25 167.3,201.85" fill="none" stroke="#111" stroke-width="0.8" />
<line x1="157.2" y1="198.25" x2="168" y2="198.25" stroke="#111" stroke-width="0.7" />
<line x1="157.2" y1="224.2" x2="168" y2="224.2" stroke="#111" stroke-width="1" />
<polyline points="167.3,244.5 159,248.1 167.3,251.7" fill="none" stroke="#111" stroke-width="0.8" />
<line x1="157.2" y1="248.1" x2="168" y2="248.1" stroke="#111" stroke-width="0.7" />
<line x1="157.2" y1="274.05" x2="168" y2="274.05" stroke="#111" stroke-width="1" />
<polyline points="167.3,294.35 159,297.95 167.3,301.55" fill="none" stroke="#111" stroke-width="0.8" />
<line x1="157.2" y1="297.95" x2="168" y2="297.95" stroke="#111" stroke-width="0.7" />
<line x1="157.2" y1="323.9" x2="168" y2="323.9" stroke="#111" stroke-width="1" />
<polyline points="167.3,344.2 159,347.8 167.3,351.4" fill="none" stroke="#111" stroke-width="0.8" />
<line x1="157.2" y1="347.8" x2="168" y2="347.8" stroke="#111" stroke-width="0.7" />
<line x1="157.2" y1="373.75" x2="168" y2="373.75" stroke="#111" stroke-width="1" />
<line x1="0" y1="0" x2="168" y2="0" stroke="#111" stroke-width="0.9" />
<line x1="-4" y1="-3.3" x2="150" y2="-3.3" stroke="#111" stroke-width="0.8" />
<line x1="0" y1="0" x2="0" y2="298" stroke="#111" stroke-width="1" />
<line x1="72" y1="375" x2="168" y2="375" stroke="#111" stroke-width="1.2" />
<rect x="109" y="372.5" width="48.5" height="4.5" fill="#fff" stroke="#333" stroke-width="0.5" />
<rect x="18" y="4.5" width="17" height="26.5" fill="#fff" stroke="#333" stroke-width="0.7" />
<rect x="35" y="3.5" width="24" height="27.5" fill="#cde9f2" stroke="#111" stroke-width="1.5" />
<line x1="35" y1="17" x2="59" y2="17" stroke="#111" stroke-width="1.3" />
<rect x="67.7" y="3" width="24" height="27.5" fill="#cde9f2" stroke="#111" stroke-width="1.5" />
<line x1="67.7" y1="16.5" x2="91.7" y2="16.5" stroke="#111" stroke-width="1.3" />
<rect x="36.5" y="12" width="3.5" height="4" fill="#fff" stroke="#1f3a4a" stroke-width="0.6" rx="1"/>
<rect x="42" y="12.5" width="3.5" height="3.5" fill="#fff" stroke="#1f3a4a" stroke-width="0.6" />
<polyline points="40,5.5 44,9.5 48,6 54,10.5 58,7.5" fill="none" stroke="#1f4a5a" stroke-width="0.6" />
<rect x="36.5" y="25.5" width="3.5" height="4" fill="#fff" stroke="#1f3a4a" stroke-width="0.6" rx="1"/>
<rect x="42" y="26" width="3.5" height="3.5" fill="#fff" stroke="#1f3a4a" stroke-width="0.6" />
<polyline points="40,19 44,23 48,19.5 54,24 58,21" fill="none" stroke="#1f4a5a" stroke-width="0.6" />
<rect x="69.2" y="12" width="3.5" height="4" fill="#fff" stroke="#1f3a4a" stroke-width="0.6" rx="1"/>
<rect x="74.7" y="12.5" width="3.5" height="3.5" fill="#fff" stroke="#1f3a4a" stroke-width="0.6" />
<polyline points="72.7,5.5 76.7,9.5 80.7,6 86.7,10.5 90.7,7.5" fill="none" stroke="#1f4a5a" stroke-width="0.6" />
<rect x="69.2" y="25.5" width="3.5" height="4" fill="#fff" stroke="#1f3a4a" stroke-width="0.6" rx="1"/>
<rect x="74.7" y="26" width="3.5" height="3.5" fill="#fff" stroke="#1f3a4a" stroke-width="0.6" />
<polyline points="72.7,19 76.7,23 80.7,19.5 86.7,24 90.7,21" fill="none" stroke="#1f4a5a" stroke-width="0.6" />
<ellipse cx="5" cy="7.5" rx="2" ry="1.2" fill="#111"/>
<path d="M35 31 L35 37 A6 6 0 0 1 29 31" fill="none" stroke="#1f3a5a" stroke-width="0.6"/>
<path d="M59 10 L64.5 10 A5.5 5.5 0 0 1 59 15.5" fill="none" stroke="#1f3a5a" stroke-width="0.6"/>
<path d="M67.7 24 L67.7 29.5 A5.5 5.5 0 0 1 62.2 24" fill="none" stroke="#1f3a5a" stroke-width="0.6"/>
<polyline points="8,18 12,22 15,16 19,20" fill="none" stroke="#1f3a5a" stroke-width="0.6" />
<rect x="110.7" y="2" width="46.5" height="34" fill="#e3c9bc" stroke="#1a1a1a" stroke-width="1.3" />
<g transform="translate(134,19) rotate(90)">
<rect x="-10.6" y="-12.03" width="3.8" height="3.8" fill="#fff" stroke="#1f2d3a" stroke-width="0.9" rx="0.8"/>
<rect x="6.8" y="-12.03" width="3.8" height="3.8" fill="#fff" stroke="#1f2d3a" stroke-width="0.9" rx="0.8"/>
<rect x="-10.6" y="-5.28" width="3.8" height="3.8" fill="#fff" stroke="#1f2d3a" stroke-width="0.9" rx="0.8"/>
<rect x="6.8" y="-5.28" width="3.8" height="3.8" fill="#fff" stroke="#1f2d3a" stroke-width="0.9" rx="0.8"/>
<rect x="-10.6" y="1.48" width="3.8" height="3.8" fill="#fff" stroke="#1f2d3a" stroke-width="0.9" rx="0.8"/>
<rect x="6.8" y="1.48" width="3.8" height="3.8" fill="#fff" stroke="#1f2d3a" stroke-width="0.9" rx="0.8"/>
<rect x="-10.6" y="8.22" width="3.8" height="3.8" fill="#fff" stroke="#1f2d3a" stroke-width="0.9" rx="0.8"/>
<rect x="6.8" y="8.22" width="3.8" height="3.8" fill="#fff" stroke="#1f2d3a" stroke-width="0.9" rx="0.8"/>
<rect x="-6" y="-13.5" width="12" height="27" fill="#fff" stroke="#555" stroke-width="0.5" />
</g>
<path d="M110.7 34 L110.7 41 A7 7 0 0 1 103.7 34" fill="none" stroke="#1f3a5a" stroke-width="0.6"/>
<g transform="translate(17.3,56.4) rotate(90)">
<rect x="-7.5" y="-13" width="15" height="26" fill="#fff" stroke="#5d6b78" stroke-width="0.5" />
<line x1="0" y1="-13" x2="0" y2="13" stroke="#7d8a96" stroke-width="0.7" />
<line x1="-3.8" y1="-11.8" x2="-3.8" y2="11.8" stroke="#8f9ba6" stroke-width="1.3" stroke-dasharray="4.2 2.2 4.2 2.4"/>
<line x1="3.8" y1="-11.8" x2="3.8" y2="11.8" stroke="#8f9ba6" stroke-width="1.3" stroke-dasharray="4.2 2.2 4.2 2.4"/>
<line x1="-7.5" y1="0" x2="7.5" y2="0" stroke="#6f7b87" stroke-width="0.6" />
<circle cx="0" cy="0" r="0.9" fill="#222" stroke="none" stroke-width="1" />
<rect x="-12.9" y="-8.8" width="4.6" height="4.6" fill="#fff" stroke="#1f2d3a" stroke-width="1.35" rx="1.2"/>
<rect x="8.3" y="-8.8" width="4.6" height="4.6" fill="#fff" stroke="#1f2d3a" stroke-width="1.35" rx="1.2"/>
<rect x="-12.9" y="4.2" width="4.6" height="4.6" fill="#fff" stroke="#1f2d3a" stroke-width="1.35" rx="1.2"/>
<rect x="8.3" y="4.2" width="4.6" height="4.6" fill="#fff" stroke="#1f2d3a" stroke-width="1.35" rx="1.2"/>
</g>
<rect x="30.8" y="48.9" width="2.2" height="15" fill="#fff" stroke="#8a97a3" stroke-width="0.3" />
<g transform="translate(17.3,91.4) rotate(90)">
<rect x="-7.5" y="-13" width="15" height="26" fill="#fff" stroke="#5d6b78" stroke-width="0.5" />
<line x1="0" y1="-13" x2="0" y2="13" stroke="#7d8a96" stroke-width="0.7" />
<line x1="-3.8" y1="-11.8" x2="-3.8" y2="11.8" stroke="#8f9ba6" stroke-width="1.3" stroke-dasharray="4.2 2.2 4.2 2.4"/>
<line x1="3.8" y1="-11.8" x2="3.8" y2="11.8" stroke="#8f9ba6" stroke-width="1.3" stroke-dasharray="4.2 2.2 4.2 2.4"/>
<line x1="-7.5" y1="0" x2="7.5" y2="0" stroke="#6f7b87" stroke-width="0.6" />
<circle cx="0" cy="0" r="0.9" fill="#222" stroke="none" stroke-width="1" />
<rect x="-12.9" y="-8.8" width="4.6" height="4.6" fill="#fff" stroke="#1f2d3a" stroke-width="1.35" rx="1.2"/>
<rect x="8.3" y="-8.8" width="4.6" height="4.6" fill="#fff" stroke="#1f2d3a" stroke-width="1.35" rx="1.2"/>
<rect x="-12.9" y="4.2" width="4.6" height="4.6" fill="#fff" stroke="#1f2d3a" stroke-width="1.35" rx="1.2"/>
<rect x="8.3" y="4.2" width="4.6" height="4.6" fill="#fff" stroke="#1f2d3a" stroke-width="1.35" rx="1.2"/>
</g>
<rect x="30.8" y="83.9" width="2.2" height="15" fill="#fff" stroke="#8a97a3" stroke-width="0.3" />
<g transform="translate(17.3,126.4) rotate(90)">
<rect x="-7.5" y="-13" width="15" height="26" fill="#fff" stroke="#5d6b78" stroke-width="0.5" />
<line x1="0" y1="-13" x2="0" y2="13" stroke="#7d8a96" stroke-width="0.7" />
<line x1="-3.8" y1="-11.8" x2="-3.8" y2="11.8" stroke="#8f9ba6" stroke-width="1.3" stroke-dasharray="4.2 2.2 4.2 2.4"/>
<line x1="3.8" y1="-11.8" x2="3.8" y2="11.8" stroke="#8f9ba6" stroke-width="1.3" stroke-dasharray="4.2 2.2 4.2 2.4"/>
<line x1="-7.5" y1="0" x2="7.5" y2="0" stroke="#6f7b87" stroke-width="0.6" />
<circle cx="0" cy="0" r="0.9" fill="#222" stroke="none" stroke-width="1" />
<rect x="-12.9" y="-8.8" width="4.6" height="4.6" fill="#fff" stroke="#1f2d3a" stroke-width="1.35" rx="1.2"/>
<rect x="8.3" y="-8.8" width="4.6" height="4.6" fill="#fff" stroke="#1f2d3a" stroke-width="1.35" rx="1.2"/>
<rect x="-12.9" y="4.2" width="4.6" height="4.6" fill="#fff" stroke="#1f2d3a" stroke-width="1.35" rx="1.2"/>
<rect x="8.3" y="4.2" width="4.6" height="4.6" fill="#fff" stroke="#1f2d3a" stroke-width="1.35" rx="1.2"/>
</g>
<rect x="30.8" y="118.9" width="2.2" height="15" fill="#fff" stroke="#8a97a3" stroke-width="0.3" />
<g transform="translate(17.3,161.4) rotate(90)">
<rect x="-7.5" y="-13" width="15" height="26" fill="#fff" stroke="#5d6b78" stroke-width="0.5" />
<line x1="0" y1="-13" x2="0" y2="13" stroke="#7d8a96" stroke-width="0.7" />
<line x1="-3.8" y1="-11.8" x2="-3.8" y2="11.8" stroke="#8f9ba6" stroke-width="1.3" stroke-dasharray="4.2 2.2 4.2 2.4"/>
<line x1="3.8" y1="-11.8" x2="3.8" y2="11.8" stroke="#8f9ba6" stroke-width="1.3" stroke-dasharray="4.2 2.2 4.2 2.4"/>
<line x1="-7.5" y1="0" x2="7.5" y2="0" stroke="#6f7b87" stroke-width="0.6" />
<circle cx="0" cy="0" r="0.9" fill="#222" stroke="none" stroke-width="1" />
<rect x="-12.9" y="-8.8" width="4.6" height="4.6" fill="#fff" stroke="#1f2d3a" stroke-width="1.35" rx="1.2"/>
<rect x="8.3" y="-8.8" width="4.6" height="4.6" fill="#fff" stroke="#1f2d3a" stroke-width="1.35" rx="1.2"/>
<rect x="-12.9" y="4.2" width="4.6" height="4.6" fill="#fff" stroke="#1f2d3a" stroke-width="1.35" rx="1.2"/>
<rect x="8.3" y="4.2" width="4.6" height="4.6" fill="#fff" stroke="#1f2d3a" stroke-width="1.35" rx="1.2"/>
</g>
<rect x="30.8" y="153.9" width="2.2" height="15" fill="#fff" stroke="#8a97a3" stroke-width="0.3" />
<g transform="translate(17.3,196.4) rotate(90)">
<rect x="-7.5" y="-13" width="15" height="26" fill="#fff" stroke="#5d6b78" stroke-width="0.5" />
<line x1="0" y1="-13" x2="0" y2="13" stroke="#7d8a96" stroke-width="0.7" />
<line x1="-3.8" y1="-11.8" x2="-3.8" y2="11.8" stroke="#8f9ba6" stroke-width="1.3" stroke-dasharray="4.2 2.2 4.2 2.4"/>
<line x1="3.8" y1="-11.8" x2="3.8" y2="11.8" stroke="#8f9ba6" stroke-width="1.3" stroke-dasharray="4.2 2.2 4.2 2.4"/>
<line x1="-7.5" y1="0" x2="7.5" y2="0" stroke="#6f7b87" stroke-width="0.6" />
<circle cx="0" cy="0" r="0.9" fill="#222" stroke="none" stroke-width="1" />
<rect x="-12.9" y="-8.8" width="4.6" height="4.6" fill="#fff" stroke="#1f2d3a" stroke-width="1.35" rx="1.2"/>
<rect x="8.3" y="-8.8" width="4.6" height="4.6" fill="#fff" stroke="#1f2d3a" stroke-width="1.35" rx="1.2"/>
<rect x="-12.9" y="4.2" width="4.6" height="4.6" fill="#fff" stroke="#1f2d3a" stroke-width="1.35" rx="1.2"/>
<rect x="8.3" y="4.2" width="4.6" height="4.6" fill="#fff" stroke="#1f2d3a" stroke-width="1.35" rx="1.2"/>
</g>
<rect x="30.8" y="188.9" width="2.2" height="15" fill="#fff" stroke="#8a97a3" stroke-width="0.3" />
<g transform="translate(139.5,55.5) rotate(90)">
<rect x="-7.5" y="-13" width="15" height="26" fill="#fff" stroke="#5d6b78" stroke-width="0.5" />
<line x1="0" y1="-13" x2="0" y2="13" stroke="#7d8a96" stroke-width="0.7" />
<line x1="-3.8" y1="-11.8" x2="-3.8" y2="11.8" stroke="#8f9ba6" stroke-width="1.3" stroke-dasharray="4.2 2.2 4.2 2.4"/>
<line x1="3.8" y1="-11.8" x2="3.8" y2="11.8" stroke="#8f9ba6" stroke-width="1.3" stroke-dasharray="4.2 2.2 4.2 2.4"/>
<line x1="-7.5" y1="0" x2="7.5" y2="0" stroke="#6f7b87" stroke-width="0.6" />
<circle cx="0" cy="0" r="0.9" fill="#222" stroke="none" stroke-width="1" />
<rect x="-12.9" y="-8.8" width="4.6" height="4.6" fill="#fff" stroke="#1f2d3a" stroke-width="1.35" rx="1.2"/>
<rect x="8.3" y="-8.8" width="4.6" height="4.6" fill="#fff" stroke="#1f2d3a" stroke-width="1.35" rx="1.2"/>
<rect x="-12.9" y="4.2" width="4.6" height="4.6" fill="#fff" stroke="#1f2d3a" stroke-width="1.35" rx="1.2"/>
<rect x="8.3" y="4.2" width="4.6" height="4.6" fill="#fff" stroke="#1f2d3a" stroke-width="1.35" rx="1.2"/>
</g>
<rect x="124.3" y="48" width="2.2" height="15" fill="#fff" stroke="#8a97a3" stroke-width="0.3" />
<g transform="translate(139.5,91.5) rotate(90)">
<rect x="-7.5" y="-13" width="15" height="26" fill="#fff" stroke="#5d6b78" stroke-width="0.5" />
<line x1="0" y1="-13" x2="0" y2="13" stroke="#7d8a96" stroke-width="0.7" />
<line x1="-3.8" y1="-11.8" x2="-3.8" y2="11.8" stroke="#8f9ba6" stroke-width="1.3" stroke-dasharray="4.2 2.2 4.2 2.4"/>
<line x1="3.8" y1="-11.8" x2="3.8" y2="11.8" stroke="#8f9ba6" stroke-width="1.3" stroke-dasharray="4.2 2.2 4.2 2.4"/>
<line x1="-7.5" y1="0" x2="7.5" y2="0" stroke="#6f7b87" stroke-width="0.6" />
<circle cx="0" cy="0" r="0.9" fill="#222" stroke="none" stroke-width="1" />
<rect x="-12.9" y="-8.8" width="4.6" height="4.6" fill="#fff" stroke="#1f2d3a" stroke-width="1.35" rx="1.2"/>
<rect x="8.3" y="-8.8" width="4.6" height="4.6" fill="#fff" stroke="#1f2d3a" stroke-width="1.35" rx="1.2"/>
<rect x="-12.9" y="4.2" width="4.6" height="4.6" fill="#fff" stroke="#1f2d3a" stroke-width="1.35" rx="1.2"/>
<rect x="8.3" y="4.2" width="4.6" height="4.6" fill="#fff" stroke="#1f2d3a" stroke-width="1.35" rx="1.2"/>
</g>
<rect x="124.3" y="84" width="2.2" height="15" fill="#fff" stroke="#8a97a3" stroke-width="0.3" />
<g transform="translate(139.5,127.5) rotate(90)">
<rect x="-7.5" y="-13" width="15" height="26" fill="#fff" stroke="#5d6b78" stroke-width="0.5" />
<line x1="0" y1="-13" x2="0" y2="13" stroke="#7d8a96" stroke-width="0.7" />
<line x1="-3.8" y1="-11.8" x2="-3.8" y2="11.8" stroke="#8f9ba6" stroke-width="1.3" stroke-dasharray="4.2 2.2 4.2 2.4"/>
<line x1="3.8" y1="-11.8" x2="3.8" y2="11.8" stroke="#8f9ba6" stroke-width="1.3" stroke-dasharray="4.2 2.2 4.2 2.4"/>
<line x1="-7.5" y1="0" x2="7.5" y2="0" stroke="#6f7b87" stroke-width="0.6" />
<circle cx="0" cy="0" r="0.9" fill="#222" stroke="none" stroke-width="1" />
<rect x="-12.9" y="-8.8" width="4.6" height="4.6" fill="#fff" stroke="#1f2d3a" stroke-width="1.35" rx="1.2"/>
<rect x="8.3" y="-8.8" width="4.6" height="4.6" fill="#fff" stroke="#1f2d3a" stroke-width="1.35" rx="1.2"/>
<rect x="-12.9" y="4.2" width="4.6" height="4.6" fill="#fff" stroke="#1f2d3a" stroke-width="1.35" rx="1.2"/>
<rect x="8.3" y="4.2" width="4.6" height="4.6" fill="#fff" stroke="#1f2d3a" stroke-width="1.35" rx="1.2"/>
</g>
<rect x="124.3" y="120" width="2.2" height="15" fill="#fff" stroke="#8a97a3" stroke-width="0.3" />
<g transform="translate(139.5,163.5) rotate(90)">
<rect x="-7.5" y="-13" width="15" height="26" fill="#fff" stroke="#5d6b78" stroke-width="0.5" />
<line x1="0" y1="-13" x2="0" y2="13" stroke="#7d8a96" stroke-width="0.7" />
<line x1="-3.8" y1="-11.8" x2="-3.8" y2="11.8" stroke="#8f9ba6" stroke-width="1.3" stroke-dasharray="4.2 2.2 4.2 2.4"/>
<line x1="3.8" y1="-11.8" x2="3.8" y2="11.8" stroke="#8f9ba6" stroke-width="1.3" stroke-dasharray="4.2 2.2 4.2 2.4"/>
<line x1="-7.5" y1="0" x2="7.5" y2="0" stroke="#6f7b87" stroke-width="0.6" />
<circle cx="0" cy="0" r="0.9" fill="#222" stroke="none" stroke-width="1" />
<rect x="-12.9" y="-8.8" width="4.6" height="4.6" fill="#fff" stroke="#1f2d3a" stroke-width="1.35" rx="1.2"/>
<rect x="8.3" y="-8.8" width="4.6" height="4.6" fill="#fff" stroke="#1f2d3a" stroke-width="1.35" rx="1.2"/>
<rect x="-12.9" y="4.2" width="4.6" height="4.6" fill="#fff" stroke="#1f2d3a" stroke-width="1.35" rx="1.2"/>
<rect x="8.3" y="4.2" width="4.6" height="4.6" fill="#fff" stroke="#1f2d3a" stroke-width="1.35" rx="1.2"/>
</g>
<rect x="124.3" y="156" width="2.2" height="15" fill="#fff" stroke="#8a97a3" stroke-width="0.3" />
<g transform="translate(139.5,199.5) rotate(90)">
<rect x="-7.5" y="-13" width="15" height="26" fill="#fff" stroke="#5d6b78" stroke-width="0.5" />
<line x1="0" y1="-13" x2="0" y2="13" stroke="#7d8a96" stroke-width="0.7" />
<line x1="-3.8" y1="-11.8" x2="-3.8" y2="11.8" stroke="#8f9ba6" stroke-width="1.3" stroke-dasharray="4.2 2.2 4.2 2.4"/>
<line x1="3.8" y1="-11.8" x2="3.8" y2="11.8" stroke="#8f9ba6" stroke-width="1.3" stroke-dasharray="4.2 2.2 4.2 2.4"/>
<line x1="-7.5" y1="0" x2="7.5" y2="0" stroke="#6f7b87" stroke-width="0.6" />
<circle cx="0" cy="0" r="0.9" fill="#222" stroke="none" stroke-width="1" />
<rect x="-12.9" y="-8.8" width="4.6" height="4.6" fill="#fff" stroke="#1f2d3a" stroke-width="1.35" rx="1.2"/>
<rect x="8.3" y="-8.8" width="4.6" height="4.6" fill="#fff" stroke="#1f2d3a" stroke-width="1.35" rx="1.2"/>
<rect x="-12.9" y="4.2" width="4.6" height="4.6" fill="#fff" stroke="#1f2d3a" stroke-width="1.35" rx="1.2"/>
<rect x="8.3" y="4.2" width="4.6" height="4.6" fill="#fff" stroke="#1f2d3a" stroke-width="1.35" rx="1.2"/>
</g>
<rect x="124.3" y="192" width="2.2" height="15" fill="#fff" stroke="#8a97a3" stroke-width="0.3" />
<g transform="translate(139.5,235.5) rotate(90)">
<rect x="-7.5" y="-13" width="15" height="26" fill="#fff" stroke="#5d6b78" stroke-width="0.5" />
<line x1="0" y1="-13" x2="0" y2="13" stroke="#7d8a96" stroke-width="0.7" />
<line x1="-3.8" y1="-11.8" x2="-3.8" y2="11.8" stroke="#8f9ba6" stroke-width="1.3" stroke-dasharray="4.2 2.2 4.2 2.4"/>
<line x1="3.8" y1="-11.8" x2="3.8" y2="11.8" stroke="#8f9ba6" stroke-width="1.3" stroke-dasharray="4.2 2.2 4.2 2.4"/>
<line x1="-7.5" y1="0" x2="7.5" y2="0" stroke="#6f7b87" stroke-width="0.6" />
<circle cx="0" cy="0" r="0.9" fill="#222" stroke="none" stroke-width="1" />
<rect x="-12.9" y="-8.8" width="4.6" height="4.6" fill="#fff" stroke="#1f2d3a" stroke-width="1.35" rx="1.2"/>
<rect x="8.3" y="-8.8" width="4.6" height="4.6" fill="#fff" stroke="#1f2d3a" stroke-width="1.35" rx="1.2"/>
<rect x="-12.9" y="4.2" width="4.6" height="4.6" fill="#fff" stroke="#1f2d3a" stroke-width="1.35" rx="1.2"/>
<rect x="8.3" y="4.2" width="4.6" height="4.6" fill="#fff" stroke="#1f2d3a" stroke-width="1.35" rx="1.2"/>
</g>
<rect x="124.3" y="228" width="2.2" height="15" fill="#fff" stroke="#8a97a3" stroke-width="0.3" />
<g transform="translate(139.5,271.5) rotate(90)">
<rect x="-7.5" y="-13" width="15" height="26" fill="#fff" stroke="#5d6b78" stroke-width="0.5" />
<line x1="0" y1="-13" x2="0" y2="13" stroke="#7d8a96" stroke-width="0.7" />
<line x1="-3.8" y1="-11.8" x2="-3.8" y2="11.8" stroke="#8f9ba6" stroke-width="1.3" stroke-dasharray="4.2 2.2 4.2 2.4"/>
<line x1="3.8" y1="-11.8" x2="3.8" y2="11.8" stroke="#8f9ba6" stroke-width="1.3" stroke-dasharray="4.2 2.2 4.2 2.4"/>
<line x1="-7.5" y1="0" x2="7.5" y2="0" stroke="#6f7b87" stroke-width="0.6" />
<circle cx="0" cy="0" r="0.9" fill="#222" stroke="none" stroke-width="1" />
<rect x="-12.9" y="-8.8" width="4.6" height="4.6" fill="#fff" stroke="#1f2d3a" stroke-width="1.35" rx="1.2"/>
<rect x="8.3" y="-8.8" width="4.6" height="4.6" fill="#fff" stroke="#1f2d3a" stroke-width="1.35" rx="1.2"/>
<rect x="-12.9" y="4.2" width="4.6" height="4.6" fill="#fff" stroke="#1f2d3a" stroke-width="1.35" rx="1.2"/>
<rect x="8.3" y="4.2" width="4.6" height="4.6" fill="#fff" stroke="#1f2d3a" stroke-width="1.35" rx="1.2"/>
</g>
<rect x="124.3" y="264" width="2.2" height="15" fill="#fff" stroke="#8a97a3" stroke-width="0.3" />
<rect x="55" y="74.5" width="46.5" height="54.5" fill="#b8bbc8" stroke="#222" stroke-width="1.1" />
<rect x="72.5" y="76" width="27.5" height="6.5" fill="#fff" stroke="#333" stroke-width="0.4" />
<rect x="76" y="76.8" width="4.2" height="4.8" fill="#fff" stroke="#333" stroke-width="0.5" />
<rect x="81.5" y="76.8" width="4.2" height="4.8" fill="#fff" stroke="#333" stroke-width="0.5" />
<rect x="87" y="76.8" width="4.2" height="4.8" fill="#fff" stroke="#333" stroke-width="0.5" />
<rect x="92.5" y="76.8" width="4.2" height="4.8" fill="#fff" stroke="#333" stroke-width="0.5" />
<rect x="70" y="85.5" width="30" height="3.2" fill="#fff" stroke="#555" stroke-width="0.4" />
<line x1="72" y1="74.5" x2="72" y2="96" stroke="#111" stroke-width="1" />
<rect x="66" y="87" width="4" height="5" fill="#fff" stroke="#333" stroke-width="0.5" />
<rect x="55" y="96" width="23.5" height="33" fill="#e3c9bc" stroke="#111" stroke-width="1.2" />
<rect x="78.5" y="89" width="23" height="40" fill="#e3c9bc" stroke="#111" stroke-width="1.2" />
<rect x="62.5" y="106" width="7" height="17" fill="#fff" stroke="#666" stroke-width="0.5" />
<line x1="62.5" y1="114.5" x2="69.5" y2="114.5" stroke="#666" stroke-width="0.4" />
<rect x="58.9" y="108.4" width="3.2" height="3.2" fill="#fff" stroke="#1f2d3a" stroke-width="0.9" />
<rect x="58.9" y="119.4" width="3.2" height="3.2" fill="#fff" stroke="#1f2d3a" stroke-width="0.9" />
<circle cx="59.5" cy="101.5" r="2" fill="#fff" stroke="#666" stroke-width="0.5" />
<g transform="translate(90,109) rotate(0)">
<rect x="-7.4" y="-9.05" width="3.1" height="3.1" fill="#fff" stroke="#1f2d3a" stroke-width="0.9" rx="0.8"/>
<rect x="4.3" y="-9.05" width="3.1" height="3.1" fill="#fff" stroke="#1f2d3a" stroke-width="0.9" rx="0.8"/>
<rect x="-7.4" y="-4.05" width="3.1" height="3.1" fill="#fff" stroke="#1f2d3a" stroke-width="0.9" rx="0.8"/>
<rect x="4.3" y="-4.05" width="3.1" height="3.1" fill="#fff" stroke="#1f2d3a" stroke-width="0.9" rx="0.8"/>
<rect x="-7.4" y="0.95" width="3.1" height="3.1" fill="#fff" stroke="#1f2d3a" stroke-width="0.9" rx="0.8"/>
<rect x="4.3" y="0.95" width="3.1" height="3.1" fill="#fff" stroke="#1f2d3a" stroke-width="0.9" rx="0.8"/>
<rect x="-7.4" y="5.95" width="3.1" height="3.1" fill="#fff" stroke="#1f2d3a" stroke-width="0.9" rx="0.8"/>
<rect x="4.3" y="5.95" width="3.1" height="3.1" fill="#fff" stroke="#1f2d3a" stroke-width="0.9" rx="0.8"/>
<rect x="-3.5" y="-10" width="7" height="20" fill="#fff" stroke="#555" stroke-width="0.5" />
</g>
<path d="M55 78 L55 86 A8 8 0 0 1 47 78" fill="none" stroke="#1f3a5a" stroke-width="0.6"/>
<path d="M101.5 92 L101.5 85 A7 7 0 0 1 108.5 92" fill="none" stroke="#1f3a5a" stroke-width="0.6"/>
<path d="M55 122 L55 128.5 A6.5 6.5 0 0 1 48.5 122" fill="none" stroke="#1f3a5a" stroke-width="0.6"/>
<path d="M101.5 122 L108.5 122 A7 7 0 0 1 101.5 129" fill="none" stroke="#1f3a5a" stroke-width="0.6"/>
<rect x="63" y="65.5" width="31" height="8.5" fill="#fff" stroke="#444" stroke-width="0.7" />
<line x1="73.3" y1="65.5" x2="73.3" y2="74" stroke="#555" stroke-width="0.5" />
<line x1="83.6" y1="65.5" x2="83.6" y2="74" stroke="#555" stroke-width="0.5" />
<rect x="80.7" y="43.7" width="6.6" height="6.6" fill="#fff" stroke="#333" stroke-width="0.8" rx="2.2"/>
<rect x="95.7" y="52.7" width="6.6" height="6.6" fill="#fff" stroke="#333" stroke-width="0.8" rx="2.2"/>
<circle cx="93" cy="57.5" r="1.9" fill="#fff" stroke="#444" stroke-width="0.7" />
<rect x="88" y="50.5" width="3" height="3" fill="#fff" stroke="#1f2d3a" stroke-width="0.9" />
<rect x="73" y="62.5" width="3" height="3" fill="#fff" stroke="#1f2d3a" stroke-width="0.9" />
<rect x="93.5" y="66" width="3" height="3" fill="#fff" stroke="#1f2d3a" stroke-width="0.9" />
<rect x="53.6" y="149.6" width="48.5" height="37" fill="#e3c9bc" stroke="#111" stroke-width="1.1" />
<rect x="53.6" y="186.6" width="48.5" height="37" fill="#e3c9bc" stroke="#111" stroke-width="1.1" />
<g transform="translate(78,168) rotate(90)">
<rect x="-10.35" y="-12.03" width="3.8" height="3.8" fill="#fff" stroke="#1f2d3a" stroke-width="0.9" rx="0.8"/>
<rect x="6.55" y="-12.03" width="3.8" height="3.8" fill="#fff" stroke="#1f2d3a" stroke-width="0.9" rx="0.8"/>
<rect x="-10.35" y="-5.28" width="3.8" height="3.8" fill="#fff" stroke="#1f2d3a" stroke-width="0.9" rx="0.8"/>
<rect x="6.55" y="-5.28" width="3.8" height="3.8" fill="#fff" stroke="#1f2d3a" stroke-width="0.9" rx="0.8"/>
<rect x="-10.35" y="1.48" width="3.8" height="3.8" fill="#fff" stroke="#1f2d3a" stroke-width="0.9" rx="0.8"/>
<rect x="6.55" y="1.48" width="3.8" height="3.8" fill="#fff" stroke="#1f2d3a" stroke-width="0.9" rx="0.8"/>
<rect x="-10.35" y="8.22" width="3.8" height="3.8" fill="#fff" stroke="#1f2d3a" stroke-width="0.9" rx="0.8"/>
<rect x="6.55" y="8.22" width="3.8" height="3.8" fill="#fff" stroke="#1f2d3a" stroke-width="0.9" rx="0.8"/>
<rect x="-5.75" y="-13.5" width="11.5" height="27" fill="#fff" stroke="#555" stroke-width="0.5" />
</g>
<g transform="translate(78,205) rotate(90)">
<rect x="-10.35" y="-12.03" width="3.8" height="3.8" fill="#fff" stroke="#1f2d3a" stroke-width="0.9" rx="0.8"/>
<rect x="6.55" y="-12.03" width="3.8" height="3.8" fill="#fff" stroke="#1f2d3a" stroke-width="0.9" rx="0.8"/>
<rect x="-10.35" y="-5.28" width="3.8" height="3.8" fill="#fff" stroke="#1f2d3a" stroke-width="0.9" rx="0.8"/>
<rect x="6.55" y="-5.28" width="3.8" height="3.8" fill="#fff" stroke="#1f2d3a" stroke-width="0.9" rx="0.8"/>
<rect x="-10.35" y="1.48" width="3.8" height="3.8" fill="#fff" stroke="#1f2d3a" stroke-width="0.9" rx="0.8"/>
<rect x="6.55" y="1.48" width="3.8" height="3.8" fill="#fff" stroke="#1f2d3a" stroke-width="0.9" rx="0.8"/>
<rect x="-10.35" y="8.22" width="3.8" height="3.8" fill="#fff" stroke="#1f2d3a" stroke-width="0.9" rx="0.8"/>
<rect x="6.55" y="8.22" width="3.8" height="3.8" fill="#fff" stroke="#1f2d3a" stroke-width="0.9" rx="0.8"/>
<rect x="-5.75" y="-13.5" width="11.5" height="27" fill="#fff" stroke="#555" stroke-width="0.5" />
</g>
<path d="M102.1 215 L102.1 208 A7 7 0 0 1 109.1 215" fill="none" stroke="#1f3a5a" stroke-width="0.6"/>
<path d="M53.6 155 L53.6 161 A6 6 0 0 1 47.6 155" fill="none" stroke="#1f3a5a" stroke-width="0.6"/>
<g transform="translate(65,231)">
<rect x="-11" y="-6.5" width="22" height="13" fill="#d49a60" stroke="#4a3a2a" stroke-width="0.8" />
<circle cx="-6" cy="0" r="1.6" fill="#fff" stroke="#b5523a" stroke-width="0.5" />
<circle cx="0" cy="0" r="1.6" fill="#fff" stroke="#b5523a" stroke-width="0.5" />
<circle cx="6" cy="0" r="1.6" fill="#fff" stroke="#b5523a" stroke-width="0.5" />
</g>
<path d="M57 237.5 L57 244 A6.5 6.5 0 0 1 50.5 237.5" fill="none" stroke="#1f3a5a" stroke-width="0.6"/>
<g transform="translate(88.8,231)">
<rect x="-11" y="-6.5" width="22" height="13" fill="#d49a60" stroke="#4a3a2a" stroke-width="0.8" />
<circle cx="-6" cy="0" r="1.6" fill="#fff" stroke="#b5523a" stroke-width="0.5" />
<circle cx="0" cy="0" r="1.6" fill="#fff" stroke="#b5523a" stroke-width="0.5" />
<circle cx="6" cy="0" r="1.6" fill="#fff" stroke="#b5523a" stroke-width="0.5" />
</g>
<path d="M80.8 237.5 L80.8 244 A6.5 6.5 0 0 1 74.3 237.5" fill="none" stroke="#1f3a5a" stroke-width="0.6"/>
<g transform="translate(19,272) rotate(0)">
<rect x="-9.5" y="-12.8" width="3.2" height="3.2" fill="#fff" stroke="#1f2d3a" stroke-width="0.9" rx="0.8"/>
<rect x="6.3" y="-12.8" width="3.2" height="3.2" fill="#fff" stroke="#1f2d3a" stroke-width="0.9" rx="0.8"/>
<rect x="-9.5" y="-7.2" width="3.2" height="3.2" fill="#fff" stroke="#1f2d3a" stroke-width="0.9" rx="0.8"/>
<rect x="6.3" y="-7.2" width="3.2" height="3.2" fill="#fff" stroke="#1f2d3a" stroke-width="0.9" rx="0.8"/>
<rect x="-9.5" y="-1.6" width="3.2" height="3.2" fill="#fff" stroke="#1f2d3a" stroke-width="0.9" rx="0.8"/>
<rect x="6.3" y="-1.6" width="3.2" height="3.2" fill="#fff" stroke="#1f2d3a" stroke-width="0.9" rx="0.8"/>
<rect x="-9.5" y="4" width="3.2" height="3.2" fill="#fff" stroke="#1f2d3a" stroke-width="0.9" rx="0.8"/>
<rect x="6.3" y="4" width="3.2" height="3.2" fill="#fff" stroke="#1f2d3a" stroke-width="0.9" rx="0.8"/>
<rect x="-9.5" y="9.6" width="3.2" height="3.2" fill="#fff" stroke="#1f2d3a" stroke-width="0.9" rx="0.8"/>
<rect x="6.3" y="9.6" width="3.2" height="3.2" fill="#fff" stroke="#1f2d3a" stroke-width="0.9" rx="0.8"/>
<rect x="-5.5" y="-14" width="11" height="28" fill="#fff" stroke="#555" stroke-width="0.5" />
</g>
<rect x="17.4" y="289" width="3.2" height="3.2" fill="#fff" stroke="#1f2d3a" stroke-width="0.9" />
<rect x="54.3" y="257.5" width="8.4" height="31" fill="#fff" stroke="#444" stroke-width="0.7" />
<line x1="54.3" y1="268" x2="62.7" y2="268" stroke="#555" stroke-width="0.5" />
<line x1="54.3" y1="278" x2="62.7" y2="278" stroke="#555" stroke-width="0.5" />
<rect x="90.8" y="257.5" width="8.4" height="31" fill="#fff" stroke="#444" stroke-width="0.7" />
<line x1="90.8" y1="268" x2="99.2" y2="268" stroke="#555" stroke-width="0.5" />
<line x1="90.8" y1="278" x2="99.2" y2="278" stroke="#555" stroke-width="0.5" />
<rect x="77.7" y="255.7" width="6.6" height="6.6" fill="#fff" stroke="#333" stroke-width="0.8" rx="2.2"/>
<rect x="71.7" y="283.2" width="6.6" height="6.6" fill="#fff" stroke="#333" stroke-width="0.8" rx="2.2"/>
<circle cx="70.2" cy="280.5" r="1.9" fill="#fff" stroke="#444" stroke-width="0.7" />
<circle cx="87.3" cy="262.8" r="1.9" fill="#fff" stroke="#444" stroke-width="0.7" />
<rect x="63" y="260.5" width="3" height="3" fill="#fff" stroke="#1f2d3a" stroke-width="0.9" />
<rect x="63" y="282.5" width="3" height="3" fill="#fff" stroke="#1f2d3a" stroke-width="0.9" />
<rect x="87.5" y="268.5" width="3" height="3" fill="#fff" stroke="#1f2d3a" stroke-width="0.9" />
<rect x="87.5" y="282.5" width="3" height="3" fill="#fff" stroke="#1f2d3a" stroke-width="0.9" />
<circle cx="78.4" cy="298.8" r="1.3" fill="#afced7" stroke="#3a5566" stroke-width="0.5" />
<rect x="114.5" y="298.5" width="42" height="74" fill="#e3c9bc" stroke="#1a1a1a" stroke-width="1.3" />
<rect x="129.5" y="311" width="12.5" height="50" fill="#fff" stroke="#555" stroke-width="0.5" />
<line x1="129.5" y1="336" x2="142" y2="336" stroke="#555" stroke-width="0.5" />
<rect x="123.8" y="312.5" width="3.8" height="3.8" fill="#fff" stroke="#1f2d3a" stroke-width="0.9" rx="0.9"/>
<rect x="143.6" y="312.5" width="3.8" height="3.8" fill="#fff" stroke="#1f2d3a" stroke-width="0.9" rx="0.9"/>
<rect x="123.8" y="318.5" width="3.8" height="3.8" fill="#fff" stroke="#1f2d3a" stroke-width="0.9" rx="0.9"/>
<rect x="143.6" y="318.5" width="3.8" height="3.8" fill="#fff" stroke="#1f2d3a" stroke-width="0.9" rx="0.9"/>
<rect x="123.8" y="324.5" width="3.8" height="3.8" fill="#fff" stroke="#1f2d3a" stroke-width="0.9" rx="0.9"/>
<rect x="143.6" y="324.5" width="3.8" height="3.8" fill="#fff" stroke="#1f2d3a" stroke-width="0.9" rx="0.9"/>
<rect x="123.8" y="330.5" width="3.8" height="3.8" fill="#fff" stroke="#1f2d3a" stroke-width="0.9" rx="0.9"/>
<rect x="143.6" y="330.5" width="3.8" height="3.8" fill="#fff" stroke="#1f2d3a" stroke-width="0.9" rx="0.9"/>
<rect x="123.8" y="336.5" width="3.8" height="3.8" fill="#fff" stroke="#1f2d3a" stroke-width="0.9" rx="0.9"/>
<rect x="143.6" y="336.5" width="3.8" height="3.8" fill="#fff" stroke="#1f2d3a" stroke-width="0.9" rx="0.9"/>
<rect x="123.8" y="342.5" width="3.8" height="3.8" fill="#fff" stroke="#1f2d3a" stroke-width="0.9" rx="0.9"/>
<rect x="143.6" y="342.5" width="3.8" height="3.8" fill="#fff" stroke="#1f2d3a" stroke-width="0.9" rx="0.9"/>
<rect x="123.8" y="348.5" width="3.8" height="3.8" fill="#fff" stroke="#1f2d3a" stroke-width="0.9" rx="0.9"/>
<rect x="143.6" y="348.5" width="3.8" height="3.8" fill="#fff" stroke="#1f2d3a" stroke-width="0.9" rx="0.9"/>
<rect x="123.8" y="354.5" width="3.8" height="3.8" fill="#fff" stroke="#1f2d3a" stroke-width="0.9" rx="0.9"/>
<rect x="143.6" y="354.5" width="3.8" height="3.8" fill="#fff" stroke="#1f2d3a" stroke-width="0.9" rx="0.9"/>
<path d="M114.5 305 L114.5 312 A7 7 0 0 1 107.5 305" fill="none" stroke="#1f3a5a" stroke-width="0.6"/>
<path d="M114.5 318 L107.5 318 A7 7 0 0 1 114.5 311" fill="none" stroke="#1f3a5a" stroke-width="0.6"/>
<rect x="103.7" y="326.7" width="6.6" height="6.6" fill="#fff" stroke="#333" stroke-width="0.8" rx="2.2"/>
<rect x="104.2" y="342.7" width="6.6" height="6.6" fill="#fff" stroke="#333" stroke-width="0.8" rx="2.2"/>
<circle cx="103" cy="338" r="1.9" fill="#fff" stroke="#444" stroke-width="0.7" />
<circle cx="99" cy="345.5" r="1.5" fill="#fff" stroke="#444" stroke-width="0.7" />
<rect x="83" y="361" width="20" height="12" fill="#d49a60" stroke="#4a3a2a" stroke-width="0.7" />
<circle cx="87.5" cy="367" r="1.3" fill="#fff" stroke="#7a5a3a" stroke-width="0.4" />
<circle cx="93" cy="367" r="1.3" fill="#fff" stroke="#7a5a3a" stroke-width="0.4" />
<circle cx="98.5" cy="367" r="1.3" fill="#fff" stroke="#7a5a3a" stroke-width="0.4" />
<path d="M103 361 L103 355 A6 6 0 0 1 109 361" fill="none" stroke="#1f3a5a" stroke-width="0.6"/>
<circle cx="-1" cy="48" r="0.8" fill="#222" stroke="none" stroke-width="1" />
<circle cx="-1" cy="95" r="0.8" fill="#222" stroke="none" stroke-width="1" />
<circle cx="-1" cy="142" r="0.8" fill="#222" stroke="none" stroke-width="1" />
<circle cx="-1" cy="190" r="0.8" fill="#222" stroke="none" stroke-width="1" />
<circle cx="-1" cy="236" r="0.8" fill="#222" stroke="none" stroke-width="1" />
</g>
<line x1="530" y1="681" x2="530" y2="722" stroke="#555" stroke-width="0.5" />
<line x1="239.5" y1="413" x2="436.5" y2="218" stroke="#111" stroke-width="2.4" />
<line x1="241" y1="424.5" x2="498.8" y2="571" stroke="#111" stroke-width="2.6" />
<polyline points="239.5,413 232.8,418.8 241,424.5" fill="none" stroke="#111" stroke-width="0.8" />
<line x1="437.5" y1="217.5" x2="645.5" y2="336.5" stroke="#111" stroke-width="2.2" />
<line x1="448.8" y1="207.5" x2="651" y2="322.8" stroke="#111" stroke-width="2" />
<line x1="452.5" y1="201.3" x2="655.5" y2="317.5" stroke="#111" stroke-width="0.9" />
<line x1="452.5" y1="201.3" x2="437.5" y2="217.5" stroke="#111" stroke-width="0.8" />
<line x1="272.5" y1="437.5" x2="567.5" y2="347.5" stroke="#333" stroke-width="0.7" stroke-dasharray="8 1.5 1.5 1.5"/>
<polygon points="588.8,293.8 627.5,316.3 601.3,361.3 562.5,340" fill="#fff" stroke="#111" stroke-width="2.4" />
<circle cx="589.4" cy="332.5" r="16.8" fill="#fff" stroke="#222" stroke-width="0.7" />
<line x1="591.4" y1="332.5" x2="606.2" y2="332.5" stroke="#111" stroke-width="0.7" />
<line x1="591.36" y1="332.92" x2="605.83" y2="335.99" stroke="#111" stroke-width="0.7" />
<line x1="591.23" y1="333.31" x2="604.75" y2="339.33" stroke="#111" stroke-width="0.7" />
<line x1="591.02" y1="333.68" x2="602.99" y2="342.37" stroke="#111" stroke-width="0.7" />
<line x1="590.74" y1="333.99" x2="600.64" y2="344.98" stroke="#111" stroke-width="0.7" />
<line x1="590.4" y1="334.23" x2="597.8" y2="347.05" stroke="#111" stroke-width="0.7" />
<line x1="590.02" y1="334.4" x2="594.59" y2="348.48" stroke="#111" stroke-width="0.7" />
<line x1="589.61" y1="334.49" x2="591.16" y2="349.21" stroke="#111" stroke-width="0.7" />
<line x1="589.19" y1="334.49" x2="587.64" y2="349.21" stroke="#111" stroke-width="0.7" />
<line x1="588.78" y1="334.4" x2="584.21" y2="348.48" stroke="#111" stroke-width="0.7" />
<line x1="588.4" y1="334.23" x2="581" y2="347.05" stroke="#111" stroke-width="0.7" />
<line x1="588.06" y1="333.99" x2="578.16" y2="344.98" stroke="#111" stroke-width="0.7" />
<line x1="587.78" y1="333.68" x2="575.81" y2="342.37" stroke="#111" stroke-width="0.7" />
<line x1="587.57" y1="333.31" x2="574.05" y2="339.33" stroke="#111" stroke-width="0.7" />
<line x1="587.44" y1="332.92" x2="572.97" y2="335.99" stroke="#111" stroke-width="0.7" />
<line x1="587.4" y1="332.5" x2="572.6" y2="332.5" stroke="#111" stroke-width="0.7" />
<line x1="587.44" y1="332.08" x2="572.97" y2="329.01" stroke="#111" stroke-width="0.7" />
<line x1="587.57" y1="331.69" x2="574.05" y2="325.67" stroke="#111" stroke-width="0.7" />
<line x1="587.78" y1="331.32" x2="575.81" y2="322.63" stroke="#111" stroke-width="0.7" />
<line x1="588.06" y1="331.01" x2="578.16" y2="320.02" stroke="#111" stroke-width="0.7" />
<line x1="588.4" y1="330.77" x2="581" y2="317.95" stroke="#111" stroke-width="0.7" />
<line x1="588.78" y1="330.6" x2="584.21" y2="316.52" stroke="#111" stroke-width="0.7" />
<line x1="589.19" y1="330.51" x2="587.64" y2="315.79" stroke="#111" stroke-width="0.7" />
<line x1="589.61" y1="330.51" x2="591.16" y2="315.79" stroke="#111" stroke-width="0.7" />
<line x1="590.02" y1="330.6" x2="594.59" y2="316.52" stroke="#111" stroke-width="0.7" />
<line x1="590.4" y1="330.77" x2="597.8" y2="317.95" stroke="#111" stroke-width="0.7" />
<line x1="590.74" y1="331.01" x2="600.64" y2="320.02" stroke="#111" stroke-width="0.7" />
<line x1="591.02" y1="331.32" x2="602.99" y2="322.63" stroke="#111" stroke-width="0.7" />
<line x1="591.23" y1="331.69" x2="604.75" y2="325.67" stroke="#111" stroke-width="0.7" />
<line x1="591.36" y1="332.08" x2="605.83" y2="329.01" stroke="#111" stroke-width="0.7" />
<circle cx="589.4" cy="332.5" r="7" fill="none" stroke="#333" stroke-width="0.4" />
<circle cx="589.4" cy="332.5" r="2.2" fill="#333" stroke="none" stroke-width="1" />
<polygon points="601.3,312.3 620,322.8 609.5,341.5 590.8,331" fill="#fff" stroke="#222" stroke-width="0.9" />
<line x1="590.8" y1="331" x2="607" y2="340" stroke="#111" stroke-width="1.6" />
<circle cx="603.5" cy="322" r="2" fill="#fff" stroke="#333" stroke-width="0.5" />
<circle cx="607.5" cy="332" r="1.8" fill="#fff" stroke="#333" stroke-width="0.5" />
<line x1="565" y1="344.5" x2="596" y2="362" stroke="#555" stroke-width="0.5" />
<circle cx="583.5" cy="292.5" r="1.6" fill="#fff" stroke="#333" stroke-width="0.5" />
<circle cx="228.5" cy="269.5" r="1.4" fill="#fff" stroke="#333" stroke-width="0.5" />
<circle cx="304" cy="269.5" r="1.4" fill="#fff" stroke="#333" stroke-width="0.5" />
<circle cx="378.5" cy="269.5" r="1.4" fill="#fff" stroke="#333" stroke-width="0.5" />
<circle cx="228.5" cy="344" r="1.4" fill="#fff" stroke="#333" stroke-width="0.5" />
<circle cx="304" cy="344" r="1.4" fill="#fff" stroke="#333" stroke-width="0.5" />
<circle cx="228.5" cy="419" r="1.4" fill="#fff" stroke="#333" stroke-width="0.5" />
<circle cx="228.5" cy="493.5" r="1.4" fill="#fff" stroke="#333" stroke-width="0.5" />
<circle cx="260" cy="436" r="1.4" fill="#fff" stroke="#333" stroke-width="0.5" />
<circle cx="346.5" cy="485" r="1.4" fill="#fff" stroke="#333" stroke-width="0.5" />
<circle cx="410.5" cy="524" r="1.4" fill="#fff" stroke="#333" stroke-width="0.5" />
<circle cx="378.5" cy="568.5" r="1.4" fill="#fff" stroke="#333" stroke-width="0.5" />
<circle cx="617.5" cy="383" r="1.4" fill="#fff" stroke="#333" stroke-width="0.5" />
<circle cx="153.8" cy="344.3" r="1.4" fill="#fff" stroke="#333" stroke-width="0.5" />
<circle cx="258.5" cy="278.5" r="1.8" fill="#fff" stroke="#333" stroke-width="0.5" />
<polyline points="681.3,20 645,132.5 645.5,150 660,271" fill="none" stroke="#151515" stroke-width="1.26" />
<polyline points="690,22.5 655,145 671.3,270" fill="none" stroke="#151515" stroke-width="2.52" />
<line x1="681.3" y1="20" x2="690" y2="22.5" stroke="#151515" stroke-width="2.52" />
<line x1="660" y1="271" x2="671.3" y2="270" stroke="#151515" stroke-width="1.68" />
<line x1="674.04" y1="42.5" x2="683" y2="47" stroke="#151515" stroke-width="0.98" />
<polyline points="674.54,39.5 682,47 675.54,45.5" fill="none" stroke="#151515" stroke-width="0.84" />
<line x1="666.78" y1="65" x2="676" y2="71.5" stroke="#151515" stroke-width="0.98" />
<line x1="659.52" y1="87.5" x2="669" y2="96" stroke="#151515" stroke-width="0.98" />
<polyline points="660.02,84.5 668,96 661.02,90.5" fill="none" stroke="#151515" stroke-width="0.84" />
<line x1="652.26" y1="110" x2="662" y2="120.5" stroke="#151515" stroke-width="0.98" />
<line x1="645" y1="132.5" x2="655" y2="145" stroke="#151515" stroke-width="0.98" />
<polyline points="645.5,129.5 654,145 646.5,135.5" fill="none" stroke="#151515" stroke-width="0.84" />
<line x1="648.4" y1="174.2" x2="658.26" y2="170" stroke="#151515" stroke-width="0.98" />
<line x1="651.3" y1="198.4" x2="661.52" y2="195" stroke="#151515" stroke-width="0.98" />
<polyline points="651.6,195.4 660.52,195 652.1,201.4" fill="none" stroke="#151515" stroke-width="0.84" />
<line x1="654.2" y1="222.6" x2="664.78" y2="220" stroke="#151515" stroke-width="0.98" />
<line x1="657.1" y1="246.8" x2="668.04" y2="245" stroke="#151515" stroke-width="0.98" />
<polyline points="657.4,243.8 667.04,245 657.9,249.8" fill="none" stroke="#151515" stroke-width="0.84" />
<rect x="684" y="42.3" width="81.5" height="3.2" fill="#fff" stroke="#151515" stroke-width="1.12" />
<rect x="712.5" y="42.3" width="10" height="3.2" fill="#fff" stroke="#151515" stroke-width="0.84" />
<rect x="763.8" y="45.5" width="2.5" height="74.5" fill="#fff" stroke="#151515" stroke-width="0.98" />
<rect x="722.5" y="95.5" width="42.5" height="24.5" fill="#fff" stroke="#151515" stroke-width="1.4" />
<polyline points="722.5,105 718,108 722.5,111" fill="none" stroke="#151515" stroke-width="0.7" />
<polyline points="657.5,120 706.3,120 706.3,145 657.5,145" fill="none" stroke="#151515" stroke-width="1.4" />
<line x1="681.8" y1="120" x2="681.8" y2="145" stroke="#151515" stroke-width="1.12" />
<polyline points="669,145 672.5,139.5 676,145" fill="none" stroke="#151515" stroke-width="0.7" />
<polyline points="692,145 695.5,139.5 699,145" fill="none" stroke="#151515" stroke-width="0.7" />
<circle cx="662.5" cy="120.5" r="1.4" fill="#fff" stroke="#151515" stroke-width="0.7" />
<rect x="765" y="117.5" width="53.8" height="2.5" fill="#fff" stroke="#151515" stroke-width="0.98" />
<line x1="818.8" y1="120" x2="830" y2="120" stroke="#151515" stroke-width="1.12" />
<rect x="766.3" y="108.8" width="11.2" height="9.7" fill="#fff" stroke="#151515" stroke-width="1.12" />
<rect x="777.5" y="108" width="28.8" height="9.5" fill="#fff" stroke="#151515" stroke-width="1.68" />
<polyline points="768,117 771,111 774,117" fill="none" stroke="#151515" stroke-width="0.7" />
<polyline points="779,110 783,113.5 779,117" fill="none" stroke="#151515" stroke-width="0.7" />
<circle cx="805" cy="92.5" r="14.3" fill="#fff" stroke="#151515" stroke-width="2.8" />
<circle cx="805" cy="92.5" r="11" fill="none" stroke="#151515" stroke-width="0.7" />
<line x1="804.48" y1="89.55" x2="803.09" y2="81.67" stroke="#151515" stroke-width="0.56" />
<line x1="805.21" y1="89.51" x2="805.77" y2="81.53" stroke="#151515" stroke-width="0.56" />
<line x1="805.93" y1="89.65" x2="808.4" y2="82.04" stroke="#151515" stroke-width="0.56" />
<line x1="806.59" y1="89.96" x2="810.83" y2="83.17" stroke="#151515" stroke-width="0.56" />
<line x1="807.16" y1="90.42" x2="812.91" y2="84.86" stroke="#151515" stroke-width="0.56" />
<line x1="807.6" y1="91" x2="814.53" y2="87" stroke="#151515" stroke-width="0.56" />
<line x1="807.88" y1="91.67" x2="815.57" y2="89.47" stroke="#151515" stroke-width="0.56" />
<line x1="808" y1="92.4" x2="815.99" y2="92.12" stroke="#151515" stroke-width="0.56" />
<line x1="807.93" y1="93.12" x2="815.76" y2="94.79" stroke="#151515" stroke-width="0.56" />
<line x1="807.7" y1="93.82" x2="814.89" y2="97.32" stroke="#151515" stroke-width="0.56" />
<line x1="807.3" y1="94.43" x2="813.43" y2="99.57" stroke="#151515" stroke-width="0.56" />
<line x1="806.76" y1="94.93" x2="811.47" y2="101.4" stroke="#151515" stroke-width="0.56" />
<line x1="806.12" y1="95.28" x2="809.12" y2="102.7" stroke="#151515" stroke-width="0.56" />
<line x1="805.42" y1="95.47" x2="806.53" y2="103.39" stroke="#151515" stroke-width="0.56" />
<line x1="804.69" y1="95.48" x2="803.85" y2="103.44" stroke="#151515" stroke-width="0.56" />
<line x1="803.97" y1="95.32" x2="801.24" y2="102.84" stroke="#151515" stroke-width="0.56" />
<line x1="803.32" y1="94.99" x2="798.85" y2="101.62" stroke="#151515" stroke-width="0.56" />
<line x1="802.77" y1="94.51" x2="796.83" y2="99.86" stroke="#151515" stroke-width="0.56" />
<line x1="802.35" y1="93.91" x2="795.29" y2="97.66" stroke="#151515" stroke-width="0.56" />
<line x1="802.09" y1="93.23" x2="794.33" y2="95.16" stroke="#151515" stroke-width="0.56" />
<line x1="802" y1="92.5" x2="794" y2="92.5" stroke="#151515" stroke-width="0.56" />
<line x1="802.09" y1="91.77" x2="794.33" y2="89.84" stroke="#151515" stroke-width="0.56" />
<rect x="790" y="97" width="16" height="11" fill="#fff" stroke="none" stroke-width="1.4" />
<polyline points="791.5,97 791.5,108" fill="none" stroke="#151515" stroke-width="1.68" />
<line x1="791.5" y1="99" x2="803" y2="99" stroke="#151515" stroke-width="0.84" />
<circle cx="805" cy="92.5" r="2.2" fill="#333" stroke="none" stroke-width="1.4" />
<line x1="775" y1="120" x2="775" y2="268.8" stroke="#151515" stroke-width="1.4" />
<line x1="818.8" y1="120" x2="818.8" y2="270" stroke="#151515" stroke-width="1.82" />
<line x1="830" y1="120" x2="830" y2="270" stroke="#151515" stroke-width="1.12" />
<line x1="775" y1="170" x2="818.8" y2="170" stroke="#151515" stroke-width="1.26" />
<line x1="775" y1="218.8" x2="818.8" y2="218.8" stroke="#151515" stroke-width="1.26" />
<line x1="775" y1="268.8" x2="830" y2="268.8" stroke="#151515" stroke-width="1.68" />
<polyline points="829,141.5 820.5,145 829,148.5" fill="none" stroke="#151515" stroke-width="0.84" />
<polyline points="829,191.5 820.5,195 829,198.5" fill="none" stroke="#151515" stroke-width="0.84" />
<polyline points="829,239.5 820.5,243 829,246.5" fill="none" stroke="#151515" stroke-width="0.84" />
<line x1="818.8" y1="170" x2="830" y2="170" stroke="#151515" stroke-width="0.98" />
<line x1="818.8" y1="218.8" x2="830" y2="218.8" stroke="#151515" stroke-width="0.98" />
<circle cx="815.5" cy="195" r="1.4" fill="#fff" stroke="#151515" stroke-width="0.7" />
<circle cx="666" cy="195" r="1.4" fill="#fff" stroke="#151515" stroke-width="0.7" />
<polyline points="775,169.5 779.5,173 775,176" fill="none" stroke="#151515" stroke-width="0.7" />
<polyline points="775,199.5 779.5,203 775,206" fill="none" stroke="#151515" stroke-width="0.7" />
<polyline points="775,249.5 779.5,253 775,256" fill="none" stroke="#151515" stroke-width="0.7" />
<ellipse cx="769.8" cy="124.5" rx="1.1" ry="2" fill="#111"/><ellipse cx="769.3" cy="264" rx="1.1" ry="2" fill="#111"/>
<rect x="722.5" y="163" width="40" height="44.5" fill="#fff" stroke="#151515" stroke-width="1.26" />
<rect x="722.5" y="163" width="40" height="5" fill="#fff" stroke="#151515" stroke-width="0.84" />
<line x1="726" y1="163" x2="726" y2="168" stroke="#151515" stroke-width="0.56" />
<line x1="730" y1="163" x2="730" y2="168" stroke="#151515" stroke-width="0.56" />
<line x1="734" y1="163" x2="734" y2="168" stroke="#151515" stroke-width="0.56" />
<line x1="738" y1="163" x2="738" y2="168" stroke="#151515" stroke-width="0.56" />
<line x1="742" y1="163" x2="742" y2="168" stroke="#151515" stroke-width="0.56" />
<line x1="746" y1="163" x2="746" y2="168" stroke="#151515" stroke-width="0.56" />
<line x1="750" y1="163" x2="750" y2="168" stroke="#151515" stroke-width="0.56" />
<line x1="754" y1="163" x2="754" y2="168" stroke="#151515" stroke-width="0.56" />
<line x1="758" y1="163" x2="758" y2="168" stroke="#151515" stroke-width="0.56" />
<rect x="723.5" y="170.5" width="26" height="23.5" fill="#fff" stroke="#151515" stroke-width="2.8" />
<line x1="725.5" y1="172.5" x2="747.5" y2="192" stroke="#151515" stroke-width="0.56" />
<line x1="747.5" y1="172.5" x2="725.5" y2="192" stroke="#151515" stroke-width="0.56" />
<rect x="752.5" y="174" width="7.5" height="19" fill="#fff" stroke="#151515" stroke-width="0.84" />
<line x1="722.5" y1="196" x2="762.5" y2="196" stroke="#151515" stroke-width="1.26" />
<line x1="735" y1="196" x2="735" y2="207.5" stroke="#151515" stroke-width="0.84" />
<line x1="742" y1="196" x2="742" y2="207.5" stroke="#151515" stroke-width="0.84" />
<line x1="748" y1="196" x2="748" y2="207.5" stroke="#151515" stroke-width="0.84" />
<rect x="727" y="198.5" width="5" height="6.5" fill="#fff" stroke="#151515" stroke-width="0.56" />
<rect x="750" y="198.5" width="5" height="6.5" fill="#fff" stroke="#151515" stroke-width="0.56" />
<polyline points="722.5,179 718.5,182 722.5,185" fill="none" stroke="#151515" stroke-width="0.7" />
<polyline points="762.5,179 766.5,182 762.5,185" fill="none" stroke="#151515" stroke-width="0.7" />
<rect x="722.5" y="216.5" width="40" height="9.5" fill="#fff" stroke="#151515" stroke-width="1.26" />
<line x1="737" y1="216.5" x2="737" y2="226" stroke="#151515" stroke-width="0.84" />
<line x1="746.5" y1="216.5" x2="746.5" y2="226" stroke="#151515" stroke-width="0.84" />
<line x1="737" y1="226" x2="746.5" y2="216.5" stroke="#151515" stroke-width="0.56" />
<polyline points="724.5,216.5 726,212 727.5,216.5" fill="none" stroke="#151515" stroke-width="0.7" />
<polyline points="732.5,216.5 734,212 735.5,216.5" fill="none" stroke="#151515" stroke-width="0.7" />
<polyline points="748.5,216.5 750,212 751.5,216.5" fill="none" stroke="#151515" stroke-width="0.7" />
<polyline points="757.5,216.5 759,212 760.5,216.5" fill="none" stroke="#151515" stroke-width="0.7" />
<rect x="671.3" y="269.5" width="50" height="1.8" fill="#fff" stroke="#151515" stroke-width="0.98" />
<polyline points="733,270 736.5,263 740,270" fill="none" stroke="#151515" stroke-width="0.7" />
<rect x="721.3" y="270" width="98.7" height="64" fill="#fff" stroke="#151515" stroke-width="1.4" />
<rect x="722.5" y="271" width="26" height="9" fill="#fff" stroke="#151515" stroke-width="1.12" />
<line x1="740" y1="271" x2="740" y2="280" stroke="#151515" stroke-width="0.7" />
<rect x="724" y="281.5" width="24.5" height="52" fill="#fff" stroke="#151515" stroke-width="1.54" />
<rect x="725.5" y="283" width="21.5" height="38" fill="#fff" stroke="#151515" stroke-width="0.7" />
<line x1="726" y1="296" x2="746.5" y2="296" stroke="#151515" stroke-width="0.56" />
<line x1="726" y1="299" x2="746.5" y2="299" stroke="#151515" stroke-width="0.56" />
<line x1="726" y1="302" x2="746.5" y2="302" stroke="#151515" stroke-width="0.56" />
<line x1="726" y1="305" x2="746.5" y2="305" stroke="#151515" stroke-width="0.56" />
<line x1="726" y1="308" x2="746.5" y2="308" stroke="#151515" stroke-width="0.56" />
<line x1="726" y1="311" x2="746.5" y2="311" stroke="#151515" stroke-width="0.56" />
<line x1="726" y1="314" x2="746.5" y2="314" stroke="#151515" stroke-width="0.56" />
<line x1="726" y1="317" x2="746.5" y2="317" stroke="#151515" stroke-width="0.56" />
<line x1="736.5" y1="296" x2="736.5" y2="321" stroke="#151515" stroke-width="0.84" />
<rect x="749.8" y="276" width="10.7" height="41.5" fill="#fff" stroke="#151515" stroke-width="1.4" />
<line x1="749.8" y1="276" x2="760.5" y2="317.5" stroke="#151515" stroke-width="0.56" />
<line x1="760.5" y1="276" x2="749.8" y2="317.5" stroke="#151515" stroke-width="0.56" />
<rect x="749.8" y="271" width="10.7" height="5" fill="#fff" stroke="#151515" stroke-width="0.84" />
<rect x="748.5" y="321.5" width="12" height="12" fill="#fff" stroke="#151515" stroke-width="0.98" />
<rect x="761.8" y="271" width="28.5" height="32" fill="#fff" stroke="#151515" stroke-width="1.12" />
<rect x="761.8" y="303" width="28.5" height="30" fill="#afced7" stroke="#151515" stroke-width="1.12" />
<circle cx="778.5" cy="299" r="1.8" fill="#fff" stroke="#151515" stroke-width="0.7" />
<ellipse cx="768" cy="327.5" rx="1.8" ry="1.1" fill="#111"/>
<rect x="792.5" y="271" width="26.3" height="63" fill="#fff" stroke="#151515" stroke-width="1.26" />
<rect x="796" y="277" width="19.5" height="13" fill="#fff" stroke="#151515" stroke-width="1.12" />
<line x1="796" y1="277" x2="815.5" y2="290" stroke="#151515" stroke-width="0.56" />
<line x1="815.5" y1="277" x2="796" y2="290" stroke="#151515" stroke-width="0.56" />
<rect x="796" y="297" width="19.5" height="11" fill="#fff" stroke="#151515" stroke-width="1.12" />
<line x1="796" y1="297" x2="815.5" y2="308" stroke="#151515" stroke-width="0.56" />
<line x1="815.5" y1="297" x2="796" y2="308" stroke="#151515" stroke-width="0.56" />
<rect x="796" y="317" width="19.5" height="13" fill="#fff" stroke="#151515" stroke-width="1.12" />
<line x1="796" y1="317" x2="815.5" y2="330" stroke="#151515" stroke-width="0.56" />
<line x1="815.5" y1="317" x2="796" y2="330" stroke="#151515" stroke-width="0.56" />
<rect x="794" y="271.5" width="23" height="3.5" fill="#fff" stroke="#151515" stroke-width="0.7" />
<line x1="796" y1="312.5" x2="806" y2="312.5" stroke="#151515" stroke-width="2.1" />
<polyline points="721.3,334 721.3,358" fill="none" stroke="#151515" stroke-width="1.12" />
<polygon points="757.5,336.3 773.8,336.3 750,373 739,366.5" fill="#afced7" stroke="none" stroke-width="1.4" />
<line x1="757.5" y1="336.3" x2="739" y2="366.5" stroke="#151515" stroke-width="1.26" />
<line x1="773.8" y1="336.3" x2="750" y2="373" stroke="#151515" stroke-width="1.26" />
<polyline points="796,336 779.5,362.5" fill="none" stroke="#151515" stroke-width="1.12" />
<line x1="721.3" y1="336" x2="820" y2="336" stroke="#151515" stroke-width="0.84" />
<rect x="800" y="333.8" width="12" height="2.5" fill="#fff" stroke="#151515" stroke-width="0.7" />
<polyline points="779.5,362.5 769,380" fill="none" stroke="#151515" stroke-width="1.12" />
<polyline points="721.3,358 734,365.5" fill="none" stroke="#151515" stroke-width="0.84" />
<ellipse cx="139.22" cy="712.5" rx="2.72" ry="1.1" fill="#cfdbdf" stroke="#6f858d" stroke-width="0.4" transform="rotate(20 136.5 712.5)"/>
<ellipse cx="139.22" cy="712.5" rx="2.72" ry="1.1" fill="#cfdbdf" stroke="#6f858d" stroke-width="0.4" transform="rotate(75 136.5 712.5)"/>
<ellipse cx="139.22" cy="712.5" rx="2.72" ry="1.1" fill="#cfdbdf" stroke="#6f858d" stroke-width="0.4" transform="rotate(140 136.5 712.5)"/>
<ellipse cx="139.22" cy="712.5" rx="2.72" ry="1.1" fill="#cfdbdf" stroke="#6f858d" stroke-width="0.4" transform="rotate(200 136.5 712.5)"/>
<ellipse cx="139.22" cy="712.5" rx="2.72" ry="1.1" fill="#cfdbdf" stroke="#6f858d" stroke-width="0.4" transform="rotate(260 136.5 712.5)"/>
<ellipse cx="139.22" cy="712.5" rx="2.72" ry="1.1" fill="#cfdbdf" stroke="#6f858d" stroke-width="0.4" transform="rotate(320 136.5 712.5)"/>
<ellipse cx="537.56" cy="676" rx="2.56" ry="1.04" fill="#cfdbdf" stroke="#6f858d" stroke-width="0.4" transform="rotate(20 535 676)"/>
<ellipse cx="537.56" cy="676" rx="2.56" ry="1.04" fill="#cfdbdf" stroke="#6f858d" stroke-width="0.4" transform="rotate(75 535 676)"/>
<ellipse cx="537.56" cy="676" rx="2.56" ry="1.04" fill="#cfdbdf" stroke="#6f858d" stroke-width="0.4" transform="rotate(140 535 676)"/>
<ellipse cx="537.56" cy="676" rx="2.56" ry="1.04" fill="#cfdbdf" stroke="#6f858d" stroke-width="0.4" transform="rotate(200 535 676)"/>
<ellipse cx="537.56" cy="676" rx="2.56" ry="1.04" fill="#cfdbdf" stroke="#6f858d" stroke-width="0.4" transform="rotate(260 535 676)"/>
<ellipse cx="537.56" cy="676" rx="2.56" ry="1.04" fill="#cfdbdf" stroke="#6f858d" stroke-width="0.4" transform="rotate(320 535 676)"/>
<text x="178.3" y="112.9" font-size="17.4">A</text>
<text x="32.5" y="626.7" font-size="17.2">B</text>
<text x="716.1" y="580.5" font-size="17.2">C</text>
<text x="768" y="687.2" font-size="11.6" font-weight="bold">VALLA, 5.krs, 10.4.2025</text>
<text x="768.2" y="713.7" font-size="11.5">A</text>
<text x="802.6" y="713.7" font-size="11.5">54 työpistettä</text>
<text x="906" y="713.7" font-size="11.5">n. 589 m²</text>
<text x="768.2" y="726.8" font-size="11.5">B</text>
<text x="802.6" y="726.8" font-size="11.5">60 työpistettä</text>
<text x="906" y="726.8" font-size="11.5">n. 725 m²</text>
<text x="768.2" y="739.9" font-size="11.5">C</text>
<text x="802.6" y="739.9" font-size="11.5">48 työpistettä</text>
<text x="906" y="739.9" font-size="11.5">n. 687 m²</text>
<text x="101" y="426" font-size="1.6" fill="#333">Tila</text>
<line x1="101" y1="428.3" x2="107" y2="428.3" stroke="#555" stroke-width="0.5" />
<text x="101" y="447" font-size="1.6" fill="#333">Tila</text>
<line x1="101" y1="449.3" x2="107" y2="449.3" stroke="#555" stroke-width="0.5" />
<text x="151" y="425" font-size="1.6" fill="#333">Tila</text>
<line x1="151" y1="427.3" x2="157" y2="427.3" stroke="#555" stroke-width="0.5" />
<text x="173" y="424" font-size="1.6" fill="#333">Tila</text>
<line x1="173" y1="426.3" x2="179" y2="426.3" stroke="#555" stroke-width="0.5" />
<text x="151" y="472" font-size="1.6" fill="#333">Tila</text>
<line x1="151" y1="474.3" x2="157" y2="474.3" stroke="#555" stroke-width="0.5" />
<text x="128" y="461" font-size="1.6" fill="#333">Tila</text>
<line x1="128" y1="463.3" x2="134" y2="463.3" stroke="#555" stroke-width="0.5" />
<text x="418" y="640" font-size="1.6" fill="#333">Tila</text>
<line x1="418" y1="642.3" x2="424" y2="642.3" stroke="#555" stroke-width="0.5" />
<text x="470" y="640" font-size="1.6" fill="#333">Tila</text>
<line x1="470" y1="642.3" x2="476" y2="642.3" stroke="#555" stroke-width="0.5" />
<text x="553" y="273" font-size="1.6" fill="#333">Tila</text>
<line x1="553" y1="275.3" x2="559" y2="275.3" stroke="#555" stroke-width="0.5" />
<text x="667" y="345" font-size="1.6" fill="#333">Tila</text>
<line x1="667" y1="347.3" x2="673" y2="347.3" stroke="#555" stroke-width="0.5" />
<text x="175" y="323" font-size="1.6" fill="#333">Tila</text>
<line x1="175" y1="325.3" x2="181" y2="325.3" stroke="#555" stroke-width="0.5" />
<text x="700" y="250" font-size="1.6" fill="#333">Tila</text>
<line x1="700" y1="252.3" x2="706" y2="252.3" stroke="#555" stroke-width="0.5" />
<text x="687" y="78" font-size="1.6" fill="#333">Tila</text>
<line x1="687" y1="80.3" x2="693" y2="80.3" stroke="#555" stroke-width="0.5" />
<text x="727" y="108" font-size="1.6" fill="#333">Tila</text>
<line x1="727" y1="110.3" x2="733" y2="110.3" stroke="#555" stroke-width="0.5" />
<text x="735" y="131" font-size="1.6" fill="#333">Tila</text>
<line x1="735" y1="133.3" x2="741" y2="133.3" stroke="#555" stroke-width="0.5" />
<text x="784" y="130" font-size="1.6" fill="#333">Tila</text>
<line x1="784" y1="132.3" x2="790" y2="132.3" stroke="#555" stroke-width="0.5" />
<text x="683" y="160" font-size="1.6" fill="#333">Tila</text>
<line x1="683" y1="162.3" x2="689" y2="162.3" stroke="#555" stroke-width="0.5" />
<text x="768" y="161" font-size="1.6" fill="#333">Tila</text>
<line x1="768" y1="163.3" x2="774" y2="163.3" stroke="#555" stroke-width="0.5" />
<text x="668" y="190" font-size="1.6" fill="#333">Tila</text>
<line x1="668" y1="192.3" x2="674" y2="192.3" stroke="#555" stroke-width="0.5" />
<text x="772" y="214" font-size="1.6" fill="#333">Tila</text>
<line x1="772" y1="216.3" x2="778" y2="216.3" stroke="#555" stroke-width="0.5" />
<text x="752" y="236" font-size="1.6" fill="#333">Tila</text>
<line x1="752" y1="238.3" x2="758" y2="238.3" stroke="#555" stroke-width="0.5" />
<text x="727" y="255" font-size="1.6" fill="#333">Tila</text>
<line x1="727" y1="257.3" x2="733" y2="257.3" stroke="#555" stroke-width="0.5" />
<text x="783" y="257" font-size="1.6" fill="#333">Tila</text>
<line x1="783" y1="259.3" x2="789" y2="259.3" stroke="#555" stroke-width="0.5" />
<text x="693" y="182" font-size="1.6" fill="#333">Tila</text>
<line x1="693" y1="184.3" x2="699" y2="184.3" stroke="#555" stroke-width="0.5" />
</svg>
</body></html>
